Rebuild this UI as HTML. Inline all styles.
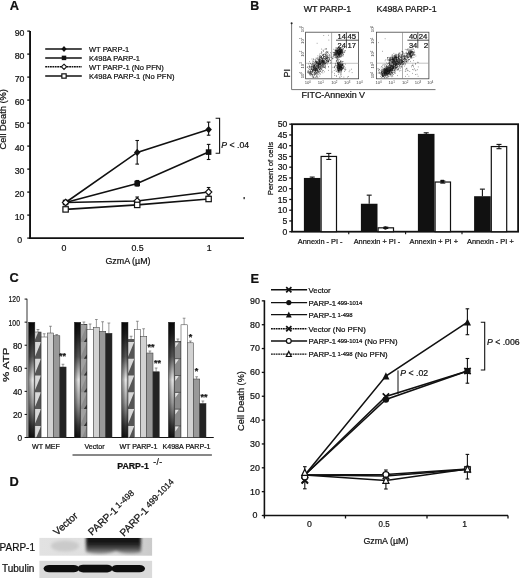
<!DOCTYPE html>
<html><head><meta charset="utf-8"><style>
html,body{margin:0;padding:0;background:#fff;}
svg{display:block;font-family:"Liberation Sans", sans-serif;filter:blur(0.3px);}
svg text{fill:#111;stroke:#111;stroke-width:0.22px;}
</style></head><body>
<svg width="520" height="578" viewBox="0 0 520 578">
<text x="9.7" y="10.1" font-size="12.8" font-weight="bold" >A</text>
<line x1="30.05" y1="31" x2="30.05" y2="239.0" stroke="#111" stroke-width="1.9" />
<line x1="29.15" y1="238.1" x2="244" y2="238.1" stroke="#111" stroke-width="1.9" />
<line x1="27.25" y1="238.1" x2="30.05" y2="238.1" stroke="#111" stroke-width="1.3" />
<text x="19.6" y="242.6" font-size="8.8" text-anchor="middle" >0</text>
<line x1="27.25" y1="215.1" x2="30.05" y2="215.1" stroke="#111" stroke-width="1.3" />
<text x="19.6" y="219.6" font-size="8.8" text-anchor="middle" >10</text>
<line x1="27.25" y1="192.1" x2="30.05" y2="192.1" stroke="#111" stroke-width="1.3" />
<text x="19.6" y="196.6" font-size="8.8" text-anchor="middle" >20</text>
<line x1="27.25" y1="169.1" x2="30.05" y2="169.1" stroke="#111" stroke-width="1.3" />
<text x="19.6" y="173.6" font-size="8.8" text-anchor="middle" >30</text>
<line x1="27.25" y1="146.1" x2="30.05" y2="146.1" stroke="#111" stroke-width="1.3" />
<text x="19.6" y="150.6" font-size="8.8" text-anchor="middle" >40</text>
<line x1="27.25" y1="123.1" x2="30.05" y2="123.1" stroke="#111" stroke-width="1.3" />
<text x="19.6" y="127.6" font-size="8.8" text-anchor="middle" >50</text>
<line x1="27.25" y1="100.1" x2="30.05" y2="100.1" stroke="#111" stroke-width="1.3" />
<text x="19.6" y="104.6" font-size="8.8" text-anchor="middle" >60</text>
<line x1="27.25" y1="77.1" x2="30.05" y2="77.1" stroke="#111" stroke-width="1.3" />
<text x="19.6" y="81.6" font-size="8.8" text-anchor="middle" >70</text>
<line x1="27.25" y1="54.1" x2="30.05" y2="54.1" stroke="#111" stroke-width="1.3" />
<text x="19.6" y="58.6" font-size="8.8" text-anchor="middle" >80</text>
<line x1="27.25" y1="31.1" x2="30.05" y2="31.1" stroke="#111" stroke-width="1.3" />
<text x="19.6" y="35.6" font-size="8.8" text-anchor="middle" >90</text>
<text x="0" y="0" font-size="9.3" text-anchor="middle" transform="translate(6.4,119.3) rotate(-90)">Cell Death (%)</text>
<text x="63.9" y="250.8" font-size="8.8" text-anchor="middle" >0</text>
<text x="137.6" y="250.8" font-size="8.8" text-anchor="middle" >0.5</text>
<text x="209.2" y="250.8" font-size="8.8" text-anchor="middle" >1</text>
<text x="128" y="264.2" font-size="8.9" text-anchor="middle" >GzmA (&#181;M)</text>
<line x1="137.2" y1="140.5" x2="137.2" y2="164.1" stroke="#111" stroke-width="1.1" />
<line x1="135.4" y1="140.5" x2="139.0" y2="140.5" stroke="#111" stroke-width="1.1" />
<line x1="135.4" y1="164.1" x2="139.0" y2="164.1" stroke="#111" stroke-width="1.1" />
<line x1="208.6" y1="122.1" x2="208.6" y2="135.2" stroke="#111" stroke-width="1.1" />
<line x1="206.8" y1="122.1" x2="210.4" y2="122.1" stroke="#111" stroke-width="1.1" />
<line x1="206.8" y1="135.2" x2="210.4" y2="135.2" stroke="#111" stroke-width="1.1" />
<line x1="208.6" y1="144.4" x2="208.6" y2="159.5" stroke="#111" stroke-width="1.1" />
<line x1="206.8" y1="144.4" x2="210.4" y2="144.4" stroke="#111" stroke-width="1.1" />
<line x1="206.8" y1="159.5" x2="210.4" y2="159.5" stroke="#111" stroke-width="1.1" />
<line x1="137.2" y1="180.5" x2="137.2" y2="186" stroke="#111" stroke-width="1.1" />
<line x1="135.4" y1="180.5" x2="139.0" y2="180.5" stroke="#111" stroke-width="1.1" />
<line x1="135.4" y1="186" x2="139.0" y2="186" stroke="#111" stroke-width="1.1" />
<line x1="208.6" y1="187.5" x2="208.6" y2="195" stroke="#111" stroke-width="1.1" />
<line x1="206.8" y1="187.5" x2="210.4" y2="187.5" stroke="#111" stroke-width="1.1" />
<line x1="206.8" y1="195" x2="210.4" y2="195" stroke="#111" stroke-width="1.1" />
<line x1="137.2" y1="197" x2="137.2" y2="203.5" stroke="#111" stroke-width="1.1" />
<line x1="135.4" y1="197" x2="139.0" y2="197" stroke="#111" stroke-width="1.1" />
<line x1="135.4" y1="203.5" x2="139.0" y2="203.5" stroke="#111" stroke-width="1.1" />
<polyline points="65.6,202.5 137.2,152.4 208.6,129.6" fill="none" stroke="#111" stroke-width="1.6"/>
<polyline points="65.6,202.5 137.2,183.5 208.6,152.1" fill="none" stroke="#111" stroke-width="1.6"/>
<polyline points="65.6,202.5 137.2,201 208.6,192" fill="none" stroke="#111" stroke-width="1.6"/>
<polyline points="65.6,209.4 137.2,204.9 208.6,199" fill="none" stroke="#111" stroke-width="1.6"/>
<path d="M65.6 198.80L68.85 202.5L65.6 206.20L62.35 202.5Z" fill="#111"/>
<path d="M137.2 148.70L140.45 152.4L137.2 156.10L133.95 152.4Z" fill="#111"/>
<path d="M208.6 125.90L211.85 129.6L208.6 133.30L205.35 129.6Z" fill="#111"/>
<rect x="62.80" y="199.70" width="5.60" height="5.60" fill="#111"/>
<rect x="134.40" y="180.70" width="5.60" height="5.60" fill="#111"/>
<rect x="205.80" y="149.30" width="5.60" height="5.60" fill="#111"/>
<path d="M65.6 199.25L68.85 202.5L65.6 205.75L62.35 202.5Z" fill="#fff" stroke="#111" stroke-width="1.1"/>
<path d="M137.2 197.75L140.45 201L137.2 204.25L133.95 201Z" fill="#fff" stroke="#111" stroke-width="1.1"/>
<path d="M208.6 188.75L211.85 192L208.6 195.25L205.35 192Z" fill="#fff" stroke="#111" stroke-width="1.1"/>
<rect x="62.91" y="206.71" width="5.38" height="5.38" fill="#fff" stroke="#111" stroke-width="1.2"/>
<rect x="134.51" y="202.21" width="5.38" height="5.38" fill="#fff" stroke="#111" stroke-width="1.2"/>
<rect x="205.91" y="196.31" width="5.38" height="5.38" fill="#fff" stroke="#111" stroke-width="1.2"/>
<line x1="45.2" y1="49" x2="81.8" y2="49" stroke="#111" stroke-width="1.45" />
<path d="M64 46.03L66.61 49L64 51.97L61.39 49Z" fill="#111"/>
<text x="89" y="51.9" font-size="8.1" textLength="40.2" lengthAdjust="spacingAndGlyphs" >WT PARP-1</text>
<line x1="45.2" y1="57.9" x2="81.8" y2="57.9" stroke="#111" stroke-width="1.45" />
<rect x="61.75" y="55.65" width="4.50" height="4.50" fill="#111"/>
<text x="89" y="60.8" font-size="8.1" textLength="50.9" lengthAdjust="spacingAndGlyphs" >K498A PARP-1</text>
<line x1="45.2" y1="66.8" x2="81.8" y2="66.8" stroke="#111" stroke-width="1.45" stroke-dasharray="1.8,0.6"/>
<path d="M64 64.19L66.61 66.8L64 69.41L61.39 66.8Z" fill="#fff" stroke="#111" stroke-width="1.1"/>
<text x="89" y="69.7" font-size="8.1" textLength="74.8" lengthAdjust="spacingAndGlyphs" >WT PARP-1 (No PFN)</text>
<line x1="45.2" y1="76" x2="81.8" y2="76" stroke="#111" stroke-width="1.45" />
<rect x="61.84" y="73.84" width="4.32" height="4.32" fill="#fff" stroke="#111" stroke-width="1.2"/>
<text x="89" y="78.9" font-size="8.1" textLength="85.5" lengthAdjust="spacingAndGlyphs" >K498A PARP-1 (No PFN)</text>
<path d="M215.6 118.3H219.6V153.3H215.6" fill="none" stroke="#111" stroke-width="1.1"/>
<text x="221.3" y="147.5" font-size="8.7"><tspan font-style="italic">P</tspan> &lt; .04</text>
<rect x="243.5" y="197" width="1.3" height="2.2" fill="#222"/>
<text x="250.3" y="9.7" font-size="12.4" font-weight="bold" >B</text>
<text x="327.5" y="12.1" font-size="8.9" text-anchor="middle" >WT PARP-1</text>
<text x="406.6" y="12.1" font-size="8.9" text-anchor="middle" >K498A PARP-1</text>
<line x1="291.6" y1="23" x2="291.6" y2="89.6" stroke="#666" stroke-width="0.9" />
<line x1="291.6" y1="89.6" x2="435.5" y2="89.6" stroke="#666" stroke-width="0.9" />
<circle cx="291.6" cy="23.3" r="1" fill="#222"/>
<text x="0" y="0" font-size="9" text-anchor="middle" transform="translate(290.4,73.3) rotate(-90)">PI</text>
<text x="333.3" y="98" font-size="8.95" text-anchor="middle" >FITC-Annexin V</text>
<rect x="305.6" y="32.2" width="53.0" height="46.6" fill="none" stroke="#444" stroke-width="0.8"/>
<line x1="331.6" y1="32.2" x2="331.6" y2="78.8" stroke="#777" stroke-width="0.6" />
<line x1="305.6" y1="63.3" x2="358.6" y2="63.3" stroke="#999" stroke-width="0.6" />
<path d="M317.7 61.7h.6M315.8 66.6h.6M312.5 66.7h.6M319.7 64.5h.6M321.6 63.0h.6M307.7 66.9h.6M325.4 57.5h.6M324.5 61.8h.6M313.5 71.7h.6M315.7 63.5h.6M329.1 59.7h.6M312.1 68.9h.6M309.3 69.4h.6M316.4 62.1h.6M317.5 66.2h.6M316.7 72.3h.6M328.8 59.5h.6M311.5 74.2h.6M319.9 57.5h.6M323.4 56.3h.6M320.8 57.9h.6M314.5 68.9h.6M313.3 61.9h.6M320.1 63.9h.6M313.9 73.7h.6M327.0 54.8h.6M322.8 62.7h.6M318.8 60.0h.6M313.6 63.3h.6M320.4 59.8h.6M313.4 76.9h.6M322.0 66.5h.6M326.3 54.0h.6M327.9 60.8h.6M315.6 66.9h.6M324.7 66.0h.6M319.3 66.7h.6M316.2 65.5h.6M322.9 64.3h.6M312.9 67.6h.6M311.9 67.9h.6M317.7 58.6h.6M321.9 62.7h.6M314.9 69.0h.6M320.5 62.5h.6M316.4 65.5h.6M327.3 62.6h.6M321.8 59.2h.6M316.8 63.4h.6M324.4 64.9h.6M321.0 69.7h.6M315.2 70.6h.6M324.7 49.2h.6M317.3 63.4h.6M316.8 70.3h.6M319.4 64.3h.6M323.5 67.5h.6M310.9 66.8h.6M314.8 72.9h.6M309.8 71.9h.6M318.9 71.6h.6M315.1 68.6h.6M315.3 74.1h.6M310.0 71.6h.6M315.3 61.6h.6M322.3 55.2h.6M319.8 60.6h.6M311.4 68.0h.6M318.7 71.2h.6M323.0 67.0h.6M314.9 70.7h.6M318.4 60.0h.6M319.8 63.1h.6M318.8 61.4h.6M328.0 61.9h.6M315.4 70.4h.6M318.8 67.4h.6M316.9 64.9h.6M309.2 65.4h.6M314.6 65.7h.6M320.9 56.7h.6M326.8 57.7h.6M324.9 58.4h.6M309.8 71.0h.6M320.8 60.6h.6M314.8 77.4h.6M314.0 65.4h.6M314.6 65.0h.6M318.4 64.2h.6M323.0 56.5h.6M325.0 55.6h.6M329.2 55.7h.6M315.9 77.1h.6M311.0 64.5h.6M318.1 65.6h.6M324.6 58.5h.6M319.4 63.8h.6M312.6 70.9h.6M324.5 56.6h.6M319.5 69.2h.6M310.8 71.6h.6M310.2 74.0h.6M322.1 61.2h.6M321.0 62.9h.6M310.2 73.8h.6M329.0 58.4h.6M318.9 64.7h.6M323.7 60.2h.6M322.0 60.9h.6M313.7 65.5h.6M314.0 66.0h.6M316.3 62.3h.6M314.4 70.8h.6M320.9 58.8h.6M311.6 67.6h.6M314.9 70.5h.6M324.6 61.0h.6M315.0 60.2h.6M316.1 76.6h.6M318.6 65.3h.6M317.8 65.4h.6M328.1 59.8h.6M322.1 61.4h.6M319.0 61.5h.6M330.7 62.7h.6M308.4 71.1h.6M318.4 64.8h.6M326.1 61.0h.6M318.9 59.2h.6M314.3 69.4h.6M323.1 62.0h.6M322.6 72.9h.6M319.4 59.6h.6M310.4 74.2h.6M322.8 63.7h.6M321.9 61.8h.6M318.1 59.5h.6M312.5 74.1h.6M321.7 62.2h.6M327.8 57.0h.6M325.2 63.5h.6M330.2 57.1h.6M318.4 67.4h.6M325.8 58.5h.6M309.7 69.6h.6M322.1 60.4h.6M318.6 66.2h.6M320.8 60.6h.6M320.2 63.7h.6M318.8 60.7h.6M320.0 71.4h.6M335.3 57.2h.6M314.7 67.5h.6M318.4 67.4h.6M312.9 70.4h.6M317.9 72.4h.6M325.7 59.3h.6M327.6 55.3h.6M325.9 55.7h.6M323.0 60.7h.6M319.1 59.4h.6M319.0 68.1h.6M314.1 66.5h.6M323.7 62.1h.6M317.4 67.1h.6M323.0 65.7h.6M322.7 60.3h.6M317.4 71.7h.6M318.7 60.3h.6M320.5 66.0h.6M319.5 62.9h.6M326.0 57.6h.6M326.7 56.2h.6M328.8 58.3h.6M317.6 55.8h.6M323.2 61.5h.6M312.5 64.3h.6M330.9 57.4h.6M312.8 61.5h.6M307.4 72.7h.6M325.3 48.9h.6M317.6 74.7h.6M315.8 61.6h.6M319.9 64.2h.6M308.7 73.6h.6M321.2 52.8h.6M318.9 63.0h.6M323.3 63.2h.6M326.0 55.8h.6M324.8 62.9h.6M314.3 68.1h.6M314.8 69.5h.6M313.1 69.4h.6M322.1 62.9h.6M322.1 70.9h.6M316.0 70.0h.6M321.6 62.7h.6M314.0 67.2h.6M314.3 66.0h.6M321.8 69.0h.6M319.1 58.8h.6M310.9 69.2h.6M312.5 71.5h.6M310.8 71.8h.6M322.3 71.0h.6M315.4 70.6h.6M322.7 64.1h.6M320.4 57.2h.6M325.3 54.2h.6M323.3 62.0h.6M330.0 60.5h.6M317.8 61.3h.6M318.9 56.6h.6M324.6 63.3h.6M332.6 57.0h.6M314.1 68.5h.6M313.3 59.7h.6M324.9 65.4h.6M313.1 70.4h.6M320.8 68.3h.6M318.2 65.3h.6M312.0 70.6h.6M314.8 67.1h.6M326.8 63.3h.6M328.6 61.2h.6M312.5 61.0h.6M317.4 61.6h.6M318.6 74.3h.6M315.1 67.1h.6M311.3 66.3h.6M319.2 64.4h.6M314.0 69.7h.6M313.7 70.2h.6M321.8 59.0h.6M319.9 62.0h.6M319.5 61.7h.6M316.7 69.0h.6M321.4 57.7h.6M322.1 59.6h.6M319.7 63.1h.6M331.6 57.0h.6M315.9 70.0h.6M323.8 58.6h.6M320.7 65.5h.6M319.2 66.5h.6M325.2 63.2h.6M323.3 62.4h.6M325.1 66.9h.6M318.0 72.7h.6M326.6 55.8h.6M319.3 62.1h.6M322.6 65.1h.6M317.7 68.8h.6M315.8 67.8h.6M315.0 61.6h.6M309.1 66.5h.6M321.2 63.9h.6M317.3 70.5h.6M329.3 57.0h.6M321.8 54.8h.6M312.8 77.0h.6M313.9 67.7h.6M314.0 72.3h.6M325.3 59.6h.6M308.9 71.9h.6M326.6 52.9h.6M321.1 51.6h.6M314.7 64.8h.6M322.9 50.9h.6M316.1 70.1h.6M315.1 69.4h.6M312.4 76.9h.6M315.1 70.9h.6M313.9 67.2h.6M318.0 67.6h.6M315.8 66.3h.6M322.3 64.0h.6M318.2 67.2h.6M315.6 63.4h.6M318.7 64.9h.6M315.9 68.5h.6M323.5 57.9h.6M324.5 63.0h.6M330.1 60.8h.6M324.5 56.5h.6M313.5 69.1h.6M309.9 63.4h.6M325.3 56.8h.6M313.5 68.6h.6M310.1 63.7h.6M323.5 61.0h.6M311.7 76.0h.6M313.4 67.2h.6M311.9 70.8h.6M314.3 65.0h.6M320.4 66.9h.6M311.7 65.1h.6M320.4 61.5h.6M324.9 67.9h.6M322.6 60.8h.6M317.2 69.1h.6M328.4 53.2h.6M307.8 71.3h.6M310.6 74.0h.6M316.0 70.1h.6M316.6 62.1h.6M322.8 62.1h.6M321.7 67.9h.6M325.9 62.3h.6M326.0 48.6h.6M313.7 65.7h.6M308.1 68.7h.6M315.3 74.4h.6M326.9 58.8h.6M322.4 64.4h.6M320.9 57.9h.6M312.5 66.1h.6M322.5 61.0h.6M319.9 64.2h.6M326.3 51.9h.6M315.5 69.4h.6M319.4 67.5h.6M317.9 67.0h.6M323.5 54.2h.6M307.5 66.9h.6M317.4 65.1h.6M330.4 52.6h.6M318.0 64.4h.6M309.4 73.4h.6M313.4 67.5h.6M321.5 65.5h.6M324.2 58.5h.6M321.1 62.9h.6M312.9 66.5h.6M318.6 61.9h.6M326.9 56.5h.6M320.9 57.3h.6M320.0 57.0h.6M323.3 58.1h.6M322.0 67.5h.6M311.4 74.2h.6M311.8 72.2h.6M322.0 59.7h.6M326.3 49.2h.6M323.6 56.4h.6M328.0 61.8h.6M326.5 57.7h.6M316.7 71.0h.6M321.3 65.6h.6M322.8 60.2h.6M310.3 73.5h.6M324.9 58.6h.6M324.0 62.4h.6M319.9 65.9h.6M323.6 62.0h.6M316.3 68.5h.6M311.5 69.2h.6M312.7 70.5h.6M314.9 64.4h.6M321.6 66.8h.6M313.8 59.8h.6M314.6 68.5h.6M328.2 66.5h.6M309.1 74.1h.6M322.2 55.2h.6M314.3 69.8h.6M318.7 71.6h.6M319.3 63.4h.6M323.5 62.7h.6M315.1 69.6h.6M312.6 70.0h.6M328.2 70.4h.6M326.5 56.5h.6M320.7 59.9h.6M318.2 63.0h.6M316.6 69.4h.6M312.0 74.7h.6M317.4 70.4h.6M310.0 75.6h.6M319.4 56.8h.6M312.5 74.8h.6M317.9 64.2h.6M319.4 62.7h.6M314.6 62.0h.6M320.4 60.1h.6M317.1 63.0h.6M312.1 72.3h.6M315.6 61.1h.6M319.8 64.0h.6M315.0 69.8h.6M321.0 56.6h.6M319.0 61.4h.6M312.9 67.2h.6M318.2 70.2h.6M321.3 49.1h.6M324.4 56.7h.6M319.5 55.6h.6M310.1 72.5h.6M320.2 67.7h.6M327.2 52.1h.6M317.8 66.7h.6M317.5 62.0h.6M317.0 76.9h.6M322.0 65.9h.6M326.3 62.2h.6M318.9 57.9h.6M308.4 71.0h.6M319.9 69.2h.6M318.3 64.4h.6M325.3 56.1h.6M328.7 55.3h.6M314.9 62.8h.6M326.2 60.4h.6M321.8 61.5h.6M324.3 61.0h.6M317.6 62.8h.6M313.7 73.3h.6M324.9 54.3h.6M316.2 72.7h.6M315.8 74.0h.6M326.5 60.8h.6M317.9 68.5h.6M314.5 73.0h.6M311.7 59.0h.6M319.9 67.9h.6M312.2 70.9h.6M320.6 63.3h.6M320.8 61.1h.6M307.0 71.1h.6M310.3 71.8h.6M312.7 75.2h.6M323.6 66.7h.6M327.6 51.6h.6M316.7 62.5h.6M328.1 61.8h.6M313.4 66.5h.6M325.4 68.0h.6M322.4 61.0h.6M324.3 54.1h.6M317.7 71.2h.6M324.4 67.2h.6M319.2 57.1h.6M333.3 56.4h.6M321.1 60.8h.6M316.7 74.9h.6M324.8 56.1h.6M309.5 67.3h.6M316.7 69.8h.6M321.2 66.9h.6M321.5 72.5h.6M332.2 58.5h.6M327.2 58.9h.6M316.3 66.5h.6M316.6 64.6h.6M313.2 69.7h.6M310.1 70.5h.6M315.1 67.7h.6M308.0 64.0h.6M319.4 65.1h.6M320.1 63.3h.6M328.4 67.2h.6M320.6 66.7h.6M327.4 52.6h.6M318.2 68.5h.6M309.7 68.9h.6M313.3 68.0h.6M312.1 62.9h.6M316.2 75.3h.6M322.6 63.6h.6M315.6 62.5h.6M320.3 62.9h.6M317.5 71.2h.6M314.4 72.4h.6M315.4 70.7h.6M315.2 64.6h.6M320.8 59.3h.6M315.7 68.9h.6M328.7 58.3h.6M311.0 69.5h.6M315.9 62.4h.6M327.4 61.0h.6M319.0 59.9h.6M324.9 63.5h.6M316.4 68.8h.6M316.8 71.7h.6M316.7 76.2h.6M316.9 70.5h.6M326.1 60.5h.6M311.7 68.2h.6M319.0 61.0h.6M323.0 63.4h.6M320.2 71.1h.6M321.1 69.4h.6M336.2 57.0h.6M323.7 60.9h.6M324.4 59.6h.6M325.2 62.7h.6M321.7 61.7h.6M321.9 61.0h.6M325.9 51.4h.6M324.0 64.1h.6M313.4 65.5h.6M311.9 75.3h.6M311.2 66.2h.6M326.5 61.7h.6M316.4 62.3h.6M319.7 68.2h.6M317.8 57.8h.6M319.7 61.6h.6M323.5 65.6h.6M321.5 57.7h.6M322.7 60.8h.6M310.4 72.0h.6M326.1 58.1h.6M327.1 57.6h.6M313.8 64.9h.6M316.3 70.6h.6M308.4 72.6h.6M312.9 66.4h.6M316.8 67.2h.6M321.3 58.6h.6M310.2 66.7h.6M324.1 62.6h.6M314.4 74.9h.6M322.8 50.1h.6M321.6 52.8h.6M317.5 69.2h.6M322.1 58.7h.6M325.3 59.5h.6M327.1 61.2h.6M318.6 63.2h.6M316.0 62.5h.6M316.3 68.7h.6M313.9 65.7h.6M321.8 63.0h.6M317.7 67.3h.6M313.6 63.7h.6M331.9 58.9h.6M316.3 73.3h.6M314.9 73.7h.6M311.7 66.8h.6M318.6 63.0h.6M322.4 58.0h.6M313.6 68.6h.6M321.0 56.5h.6M315.0 71.4h.6M329.0 54.5h.6M323.8 61.0h.6M319.4 61.5h.6M327.7 61.4h.6M322.7 61.4h.6M309.2 61.6h.6M325.8 53.7h.6M317.9 65.6h.6M319.0 69.5h.6M314.6 68.1h.6M322.8 59.0h.6M309.5 72.0h.6M325.1 61.1h.6M312.7 69.5h.6M313.4 67.9h.6M316.4 63.7h.6M315.3 71.7h.6M323.4 56.9h.6M317.3 57.9h.6M317.0 70.1h.6M317.5 62.8h.6M320.3 65.0h.6M320.4 64.9h.6M313.2 77.4h.6M320.3 68.5h.6M311.8 69.9h.6M321.7 60.7h.6M316.5 60.8h.6M320.6 71.4h.6M323.3 62.0h.6M328.0 61.6h.6M311.2 71.9h.6M319.0 54.1h.6M314.8 77.2h.6M325.6 57.6h.6M318.2 66.3h.6M320.6 63.1h.6M327.0 58.8h.6M323.3 62.5h.6M315.2 60.8h.6M320.7 68.3h.6M317.9 63.1h.6M318.0 63.4h.6M324.3 67.5h.6M315.3 73.5h.6M313.5 69.2h.6M315.3 59.3h.6M323.3 60.6h.6M321.9 64.1h.6M319.0 64.2h.6M313.1 65.0h.6M313.1 67.3h.6M311.7 66.5h.6M320.0 64.6h.6M326.4 60.4h.6M321.6 67.0h.6M316.9 63.3h.6M318.5 66.4h.6M327.7 57.5h.6M315.5 65.9h.6M312.2 71.6h.6M330.0 63.1h.6M322.5 61.7h.6M323.6 63.9h.6M322.4 58.5h.6M316.0 68.2h.6M312.1 63.6h.6M322.3 60.7h.6M320.7 68.8h.6M323.4 70.5h.6M323.1 66.1h.6M326.8 59.3h.6M315.4 69.0h.6M309.0 72.9h.6M309.3 74.8h.6M328.0 57.6h.6M316.4 63.5h.6M314.4 74.6h.6M323.3 54.7h.6M309.0 66.8h.6M322.6 55.4h.6M309.3 67.1h.6M311.9 65.7h.6M318.3 71.3h.6M316.8 66.1h.6M321.7 62.7h.6M316.6 73.3h.6M326.3 62.8h.6M317.8 63.4h.6M327.9 61.3h.6M320.8 64.6h.6M321.5 61.8h.6M317.1 69.0h.6M320.0 56.2h.6M319.9 59.6h.6M311.1 73.0h.6M314.7 72.6h.6M312.4 70.2h.6M318.5 64.5h.6M324.1 63.9h.6M317.5 73.6h.6M322.6 64.5h.6M328.2 60.7h.6M312.9 69.5h.6M317.4 64.8h.6M325.3 59.1h.6M320.3 61.6h.6M309.5 72.8h.6M326.8 64.3h.6M319.5 63.0h.6M323.0 55.1h.6M327.2 57.8h.6M332.7 58.5h.6M312.7 72.2h.6M327.5 61.3h.6M323.0 57.9h.6M317.9 63.4h.6M318.4 61.8h.6M315.4 68.0h.6M319.6 73.5h.6M313.6 64.8h.6M319.4 72.7h.6M318.8 59.7h.6M318.5 64.0h.6M323.1 64.3h.6M314.8 72.6h.6M316.5 68.9h.6M323.3 51.2h.6M326.0 58.5h.6M311.2 68.2h.6M324.3 71.8h.6M322.9 59.1h.6M316.1 68.9h.6M321.0 56.4h.6M317.9 63.4h.6M310.4 67.8h.6M319.2 69.4h.6M321.1 60.9h.6M324.7 61.0h.6M315.9 64.6h.6M325.6 54.5h.6M329.0 59.9h.6M323.3 54.8h.6M316.0 58.8h.6M315.3 70.9h.6M319.8 57.8h.6M312.6 69.7h.6M322.1 65.8h.6M316.7 63.0h.6M321.9 65.9h.6M326.7 52.4h.6M323.7 67.0h.6M328.5 60.7h.6M313.1 68.9h.6M314.7 68.4h.6M308.0 72.8h.6M321.8 62.5h.6M317.8 71.9h.6M312.6 64.4h.6M326.9 60.4h.6M317.4 59.7h.6M310.8 69.5h.6M320.7 53.5h.6M320.1 74.2h.6M319.8 64.0h.6M317.7 67.4h.6M321.7 58.1h.6M312.9 77.1h.6M306.9 67.5h.6M321.7 61.7h.6M317.6 77.6h.6M322.3 59.0h.6M320.4 63.1h.6M320.4 66.5h.6M313.8 66.4h.6M321.5 61.9h.6M320.5 67.8h.6M318.5 66.2h.6M325.9 58.8h.6M315.3 67.0h.6M327.4 56.7h.6M316.1 68.2h.6M329.7 60.0h.6M313.7 74.4h.6M321.3 60.8h.6M313.1 58.8h.6M328.7 57.3h.6M330.6 55.3h.6M325.4 52.6h.6M315.8 58.0h.6M319.4 58.3h.6M316.2 72.6h.6M307.6 72.1h.6M309.8 72.7h.6M317.2 67.8h.6M317.3 72.9h.6M318.4 65.3h.6M311.2 73.0h.6M318.1 62.9h.6M325.0 66.2h.6M319.2 69.9h.6M313.9 69.9h.6M317.6 59.0h.6M314.4 65.8h.6M315.6 71.5h.6M319.3 60.6h.6M324.5 63.0h.6M326.0 58.5h.6M311.6 74.5h.6M326.8 59.1h.6M321.0 64.9h.6M314.6 65.2h.6M317.6 64.5h.6M319.5 76.1h.6M316.1 61.7h.6M323.2 57.5h.6M319.2 69.8h.6M319.0 63.8h.6M319.0 60.4h.6M315.7 61.6h.6M324.0 61.7h.6M314.2 75.3h.6M320.4 70.2h.6M315.2 69.2h.6M316.6 72.8h.6M319.8 58.4h.6M314.3 70.8h.6M324.8 54.6h.6M322.3 61.8h.6M318.8 68.8h.6M324.5 63.9h.6M318.3 60.4h.6M325.0 64.4h.6M319.2 62.0h.6M323.0 54.8h.6M317.2 65.8h.6M314.1 62.7h.6M316.4 67.6h.6M323.5 61.1h.6M314.8 68.4h.6M317.6 69.0h.6M316.7 65.6h.6M311.1 73.6h.6M320.5 55.5h.6M314.1 70.5h.6M311.2 69.2h.6M314.6 67.3h.6M316.9 66.5h.6M318.8 65.8h.6M334.5 53.6h.6M334.7 54.6h.6M337.8 53.1h.6M339.8 48.0h.6M339.5 51.4h.6M340.8 52.9h.6M341.9 52.2h.6M339.8 54.5h.6M338.6 49.7h.6M336.0 54.2h.6M336.2 51.6h.6M337.4 53.1h.6M339.3 53.1h.6M339.2 53.7h.6M338.6 51.2h.6M338.2 52.9h.6M340.2 49.5h.6M339.1 49.3h.6M339.3 53.3h.6M339.4 52.1h.6M337.2 49.3h.6M336.0 51.3h.6M339.8 52.1h.6M339.6 55.4h.6M338.0 54.7h.6M337.6 54.3h.6M344.3 47.1h.6M336.7 52.7h.6M338.1 53.5h.6M339.3 53.0h.6M335.7 54.0h.6M338.9 51.8h.6M343.1 54.9h.6M340.9 54.9h.6M340.2 51.8h.6M340.1 49.9h.6M338.9 56.6h.6M341.0 50.6h.6M338.2 55.0h.6M337.5 56.7h.6M338.9 50.3h.6M340.9 52.4h.6M339.4 51.4h.6M340.3 53.0h.6M333.5 54.4h.6M341.6 55.7h.6M344.5 52.1h.6M341.9 51.5h.6M337.8 54.9h.6M336.5 52.4h.6M339.3 51.4h.6M336.1 57.7h.6M340.4 50.2h.6M337.3 51.7h.6M341.0 51.8h.6M342.0 49.3h.6M333.5 49.3h.6M339.3 54.4h.6M336.9 51.2h.6M335.1 52.2h.6M337.1 52.0h.6M338.1 50.5h.6M341.2 49.4h.6M334.8 53.7h.6M341.2 56.7h.6M343.6 52.6h.6M340.1 53.5h.6M340.0 48.9h.6M338.6 52.3h.6M335.7 50.7h.6M339.9 53.6h.6M339.6 51.6h.6M340.4 52.0h.6M345.0 50.5h.6M340.4 50.7h.6M339.7 48.9h.6M342.5 52.6h.6M335.2 50.4h.6M335.7 50.7h.6M337.7 52.0h.6M337.0 51.3h.6M340.3 52.5h.6M337.8 54.7h.6M342.9 51.8h.6M342.4 51.8h.6M340.5 51.9h.6M337.6 54.4h.6M340.1 48.1h.6M340.6 52.6h.6M335.9 51.1h.6M339.5 49.6h.6M340.4 51.9h.6M339.1 51.4h.6M342.5 52.6h.6M341.6 53.9h.6M336.5 48.0h.6M338.9 52.1h.6M336.5 57.0h.6M340.0 53.8h.6M336.4 56.0h.6M340.9 52.0h.6M339.6 49.1h.6M341.0 49.4h.6M338.2 54.0h.6M335.0 55.3h.6M343.0 49.7h.6M338.2 51.9h.6M342.0 52.0h.6M339.7 48.4h.6M340.3 51.2h.6M343.2 54.6h.6M339.5 56.7h.6M342.1 51.2h.6M334.9 57.2h.6M340.8 50.7h.6M338.0 50.8h.6M338.3 47.8h.6M338.6 54.4h.6M339.5 51.4h.6M342.7 56.2h.6M334.0 54.3h.6M338.7 52.7h.6M336.8 49.1h.6M341.5 54.8h.6M337.5 51.9h.6M339.7 51.7h.6M337.6 48.0h.6M340.3 53.9h.6M341.1 53.8h.6M337.6 51.4h.6M338.7 52.5h.6M335.0 54.1h.6M339.4 54.2h.6M340.7 52.0h.6M337.2 56.4h.6M341.4 51.1h.6M333.4 52.5h.6M334.0 52.6h.6M335.1 48.0h.6M337.4 51.0h.6M338.6 54.5h.6M338.4 53.0h.6M338.4 50.7h.6M340.4 52.6h.6M337.4 48.5h.6M335.4 52.6h.6M335.5 54.3h.6M343.9 52.5h.6M332.7 52.3h.6M338.2 54.4h.6M342.2 55.3h.6M339.8 51.2h.6M336.5 54.5h.6M338.6 49.1h.6M340.8 47.7h.6M341.6 52.9h.6M336.4 53.1h.6M340.5 52.3h.6M339.2 51.0h.6M341.4 51.0h.6M342.1 53.2h.6M337.7 56.2h.6M335.0 52.9h.6M339.6 48.7h.6M343.0 53.9h.6M340.3 53.2h.6M339.2 53.7h.6M344.6 51.2h.6M336.0 58.0h.6M340.9 52.0h.6M337.2 53.8h.6M338.7 48.5h.6M338.8 51.1h.6M342.4 50.0h.6M336.3 52.9h.6M337.3 53.5h.6M334.6 51.9h.6M339.8 55.7h.6M337.5 50.5h.6M339.7 51.2h.6M335.9 53.6h.6M337.7 50.0h.6M341.2 52.9h.6M338.2 53.8h.6M340.2 51.4h.6M339.9 56.1h.6M337.7 52.8h.6M334.7 54.0h.6M341.1 49.7h.6M339.0 48.8h.6M341.1 50.4h.6M333.6 53.0h.6M334.5 52.5h.6M333.2 55.4h.6M336.4 48.0h.6M341.2 49.3h.6M340.0 48.2h.6M338.5 55.2h.6M338.9 51.1h.6M340.5 50.8h.6M337.8 50.3h.6M339.6 54.0h.6M338.9 51.4h.6M333.1 54.3h.6M337.6 48.4h.6M342.0 54.0h.6M337.6 53.5h.6M338.2 53.6h.6M337.1 55.4h.6M337.4 52.3h.6M341.4 51.3h.6M337.9 54.1h.6M336.0 54.0h.6M330.8 53.9h.6M337.2 52.9h.6M333.7 52.6h.6M334.0 55.1h.6M340.6 53.8h.6M340.4 51.9h.6M333.8 57.6h.6M340.7 48.6h.6M339.7 51.6h.6M336.6 56.5h.6M340.4 51.0h.6M334.5 50.1h.6M335.6 56.1h.6M335.0 54.5h.6M335.8 50.6h.6M340.8 53.4h.6M335.3 51.1h.6M335.7 50.3h.6M336.2 52.7h.6M339.1 51.3h.6M337.8 50.3h.6M340.8 51.1h.6M336.8 50.8h.6M335.4 53.4h.6M337.3 52.7h.6M338.7 53.9h.6M336.3 52.1h.6M339.3 49.4h.6M343.1 48.4h.6M337.1 52.3h.6M338.7 55.6h.6M342.0 53.3h.6M337.0 51.5h.6M336.5 54.9h.6M335.8 50.7h.6M339.6 54.3h.6M339.9 51.3h.6M338.2 54.1h.6M338.7 53.7h.6M341.7 51.0h.6M340.7 52.5h.6M335.0 51.1h.6M338.5 52.3h.6M338.8 54.6h.6M340.3 60.6h.6M338.0 54.0h.6M336.9 53.0h.6M337.4 50.6h.6M334.1 55.8h.6M338.5 49.0h.6M337.0 51.1h.6M339.7 52.9h.6M336.0 50.6h.6M337.4 56.0h.6M336.1 55.4h.6M335.9 51.9h.6M340.3 50.8h.6M337.4 50.0h.6M339.6 49.2h.6M335.7 54.1h.6M338.8 53.7h.6M334.3 54.3h.6M337.3 53.3h.6M337.2 51.6h.6M340.0 52.8h.6M339.0 49.2h.6M338.1 52.6h.6M340.6 55.0h.6M339.0 55.1h.6M339.8 51.1h.6M340.4 51.2h.6M338.3 55.4h.6M337.8 56.4h.6M339.3 49.1h.6M337.4 51.8h.6M339.5 52.7h.6M341.3 54.3h.6M340.6 50.1h.6M337.5 54.0h.6M335.3 52.6h.6M338.3 57.5h.6M338.2 53.4h.6M341.2 51.4h.6M337.5 52.0h.6M338.0 54.8h.6M340.3 53.4h.6M337.3 50.5h.6M338.1 53.0h.6M342.8 48.5h.6M342.2 49.9h.6M340.1 49.3h.6M339.2 49.5h.6M336.1 51.6h.6M339.9 50.0h.6M338.6 53.5h.6M339.0 54.0h.6M337.2 52.3h.6M338.5 50.1h.6M338.0 54.3h.6M339.3 48.0h.6M342.0 47.4h.6M339.4 53.7h.6M334.3 54.9h.6M336.1 55.1h.6M334.5 53.0h.6M336.5 50.3h.6M339.9 51.0h.6M339.5 53.4h.6M337.0 51.2h.6M339.1 50.8h.6M336.6 50.0h.6M334.9 50.9h.6M335.0 55.1h.6M336.3 54.0h.6M342.0 49.1h.6M335.1 51.0h.6M341.6 50.4h.6M341.8 52.7h.6M338.0 50.1h.6M338.4 52.1h.6M336.9 48.3h.6M338.4 49.8h.6M340.1 52.9h.6M338.5 54.3h.6M341.0 49.3h.6M341.4 50.0h.6M339.3 53.9h.6M339.3 51.4h.6M338.3 51.3h.6M339.3 53.3h.6M335.7 53.6h.6M339.5 54.5h.6M339.0 54.0h.6M336.3 51.8h.6M343.8 50.8h.6M336.0 53.0h.6M336.3 50.2h.6M339.2 50.2h.6M333.6 55.8h.6M336.5 49.6h.6M334.7 55.5h.6M336.1 53.7h.6M338.1 52.2h.6M339.3 53.4h.6M341.2 52.7h.6M340.5 54.5h.6M341.4 50.8h.6M339.9 51.6h.6M337.3 52.2h.6M341.2 55.7h.6M337.2 54.8h.6M336.9 50.9h.6M342.3 50.7h.6M340.4 50.4h.6M339.0 52.3h.6M340.3 52.4h.6M340.7 56.7h.6M335.1 49.5h.6M338.2 54.7h.6M335.5 54.1h.6M338.8 50.9h.6M336.8 52.6h.6M341.9 50.5h.6M339.8 52.2h.6M336.4 55.1h.6M338.4 49.3h.6M335.4 56.0h.6M338.3 71.0h.6M342.3 65.7h.6M340.0 66.4h.6M341.7 67.3h.6M340.3 64.9h.6M341.4 64.6h.6M339.2 66.0h.6M337.4 69.2h.6M340.5 65.9h.6M340.6 66.5h.6M343.5 65.9h.6M334.9 63.6h.6M338.7 70.8h.6M341.4 61.2h.6M336.5 65.4h.6M338.6 68.4h.6M343.6 63.6h.6M342.1 68.6h.6M337.3 70.2h.6M342.1 64.9h.6M341.6 67.6h.6M340.8 64.3h.6M339.9 68.3h.6M339.6 67.3h.6M337.3 67.6h.6M338.0 70.5h.6M340.7 68.2h.6M339.4 70.4h.6M343.0 68.6h.6M338.4 64.0h.6M334.1 67.7h.6M338.4 68.3h.6M339.7 63.4h.6M339.9 70.4h.6M339.3 67.2h.6M337.4 68.0h.6M342.3 64.8h.6M337.7 67.2h.6M340.6 67.8h.6M338.5 66.2h.6M336.6 67.2h.6M342.1 61.7h.6M333.9 70.5h.6M337.4 64.3h.6M340.1 61.6h.6M338.4 64.6h.6M340.7 65.0h.6M338.9 68.4h.6M338.2 64.8h.6M343.7 67.8h.6M338.7 64.6h.6M338.8 72.6h.6M336.9 68.4h.6M337.6 71.9h.6M340.5 64.5h.6M340.3 68.7h.6M339.2 64.7h.6M337.7 68.5h.6M340.6 68.7h.6M335.6 63.1h.6M338.4 64.2h.6M338.6 64.1h.6M337.4 63.3h.6M339.5 65.2h.6M337.8 64.6h.6M337.5 63.4h.6M342.9 67.3h.6M340.7 68.4h.6M341.7 63.8h.6M339.3 65.6h.6M341.2 67.1h.6M340.8 66.5h.6M341.7 65.3h.6M344.1 69.1h.6M338.7 69.2h.6M339.7 68.7h.6M339.1 66.5h.6M331.8 72.0h.6M336.2 71.4h.6M339.2 66.0h.6M340.5 66.7h.6M338.0 70.0h.6M341.6 65.0h.6M341.9 68.0h.6M338.3 67.1h.6M342.2 65.3h.6M342.9 66.4h.6M340.2 63.1h.6M337.1 65.7h.6M342.3 62.0h.6M338.8 72.7h.6M338.4 70.8h.6M339.4 70.1h.6M338.1 67.8h.6M341.4 69.5h.6M340.8 70.2h.6M341.8 69.6h.6M340.4 69.3h.6M337.5 64.7h.6M338.9 68.1h.6M341.0 65.7h.6M338.3 64.1h.6M345.3 64.2h.6M338.7 68.1h.6M338.0 69.6h.6M341.6 63.6h.6M340.8 71.4h.6M339.1 70.7h.6M338.7 66.1h.6M340.1 65.9h.6M341.0 66.8h.6M340.8 69.5h.6M338.6 66.1h.6M340.1 64.2h.6M341.0 67.9h.6M340.8 61.8h.6M332.7 67.4h.6M337.3 69.9h.6M337.6 67.8h.6M338.7 69.0h.6M339.6 68.2h.6M341.1 68.8h.6M340.5 67.4h.6M338.9 64.9h.6M339.2 66.4h.6M342.9 66.8h.6M337.9 70.1h.6M339.8 71.1h.6M342.5 68.1h.6M339.9 65.1h.6M334.9 65.2h.6M340.0 66.5h.6M338.4 70.5h.6M339.0 67.8h.6M341.4 66.9h.6M340.2 65.1h.6M338.6 69.2h.6M341.1 67.7h.6M340.1 66.9h.6M339.4 67.3h.6M339.8 71.2h.6M339.7 66.6h.6M338.5 71.2h.6M338.2 70.1h.6M339.3 67.1h.6M337.2 69.2h.6M336.6 66.7h.6M341.9 64.9h.6M338.7 66.3h.6M339.1 64.7h.6M338.9 68.3h.6M339.2 67.0h.6M339.2 68.4h.6M339.3 69.1h.6M337.5 59.2h.6M341.2 67.8h.6M337.7 62.5h.6M341.4 67.4h.6M335.2 64.8h.6M337.0 67.3h.6M341.3 70.4h.6M338.9 62.7h.6M337.8 67.5h.6M340.0 66.8h.6M337.0 62.3h.6M339.4 68.6h.6M334.5 67.1h.6M338.3 65.7h.6M337.8 65.2h.6M340.3 75.0h.6M341.0 66.0h.6M337.4 62.5h.6M342.6 64.7h.6M338.0 66.1h.6M334.9 66.0h.6M334.2 66.8h.6M342.4 64.4h.6M339.0 68.4h.6M337.8 65.8h.6M337.6 63.6h.6M336.9 65.0h.6M342.0 66.0h.6M339.0 69.1h.6M343.0 68.2h.6M338.8 66.2h.6M334.3 67.0h.6M341.0 67.5h.6M338.4 72.1h.6M338.7 65.5h.6M342.5 68.2h.6M338.6 68.8h.6M341.6 64.6h.6M339.2 67.5h.6M337.6 67.4h.6M340.3 65.8h.6M337.9 68.4h.6M341.8 69.6h.6M341.2 69.8h.6M339.3 66.5h.6M340.5 67.5h.6M340.4 72.9h.6M338.6 64.2h.6M341.1 67.6h.6M338.7 69.2h.6M340.5 67.4h.6M337.2 68.6h.6M339.4 67.4h.6M340.1 68.9h.6M337.5 70.2h.6M338.3 66.4h.6M338.1 67.5h.6M340.7 66.9h.6M337.7 66.0h.6M340.1 67.0h.6M342.4 64.2h.6M340.0 68.9h.6M335.8 71.3h.6M339.5 71.3h.6M341.4 70.2h.6M338.6 64.6h.6M341.5 70.8h.6M340.5 65.2h.6M340.1 66.9h.6M338.7 71.6h.6M338.1 64.3h.6M338.7 69.1h.6M339.4 67.7h.6M340.3 66.6h.6M340.1 64.8h.6M338.6 68.1h.6M339.4 65.8h.6M340.0 69.6h.6M335.8 70.1h.6M337.6 63.6h.6M337.5 65.7h.6M338.8 66.2h.6M338.6 64.0h.6M338.7 64.2h.6M337.4 67.2h.6M340.6 66.5h.6M339.8 62.9h.6M335.8 65.7h.6M339.3 68.3h.6M336.9 64.0h.6M342.8 64.7h.6M338.3 71.0h.6M338.4 70.3h.6M339.4 62.9h.6M338.8 63.6h.6M339.1 67.9h.6M342.5 64.0h.6M339.7 66.4h.6M341.0 65.9h.6M341.6 68.4h.6M337.2 60.7h.6M342.8 61.5h.6M340.7 63.9h.6M341.2 69.5h.6M337.4 66.6h.6M341.0 62.7h.6M340.1 68.2h.6M338.1 68.8h.6M344.0 66.4h.6M340.4 66.2h.6M338.7 68.1h.6M339.6 70.0h.6M341.2 67.4h.6M341.6 68.3h.6M340.5 66.9h.6M341.8 66.0h.6M342.3 64.7h.6M336.6 67.6h.6M338.2 66.2h.6M337.3 66.4h.6M339.4 69.3h.6M342.3 68.2h.6M340.6 69.2h.6M337.0 63.1h.6M338.6 68.4h.6M341.4 65.5h.6M338.1 65.0h.6M339.0 64.9h.6M339.9 70.0h.6M335.4 69.1h.6M340.9 65.2h.6M340.0 64.2h.6M340.4 67.0h.6M337.2 65.9h.6M337.6 71.1h.6M338.0 63.3h.6M339.8 62.4h.6M339.4 66.4h.6M339.5 67.0h.6M343.0 67.3h.6M342.0 68.9h.6M337.7 72.2h.6M337.9 66.1h.6M342.8 65.6h.6M338.6 62.6h.6M342.1 67.6h.6M339.2 63.1h.6M339.6 62.9h.6M340.0 61.4h.6M336.9 59.4h.6M336.4 61.5h.6M338.5 62.4h.6M340.5 56.2h.6M337.9 61.6h.6M339.4 55.3h.6M337.5 58.1h.6M338.9 55.9h.6M339.1 55.1h.6M337.7 55.2h.6M340.3 61.7h.6M338.0 60.4h.6M340.4 56.7h.6M337.4 56.7h.6M336.7 62.3h.6M336.0 60.5h.6M339.5 62.2h.6M338.5 57.5h.6M337.7 56.5h.6M337.3 63.7h.6M337.6 56.5h.6M339.8 57.5h.6M338.9 56.3h.6M335.5 57.8h.6M336.6 57.8h.6M336.3 60.3h.6M338.6 62.0h.6M338.3 59.1h.6M339.3 59.4h.6M337.6 57.9h.6M337.7 63.6h.6M337.4 57.5h.6M339.0 56.1h.6M336.8 58.7h.6M337.5 59.8h.6M335.9 61.1h.6M339.1 57.4h.6M338.3 74.3h.6M341.4 76.3h.6M334.2 73.4h.6M340.3 70.1h.6M349.6 70.2h.6M348.2 76.5h.6M351.4 69.2h.6M336.8 68.8h.6M339.8 77.1h.6M345.6 69.5h.6M335.9 75.5h.6M345.2 68.0h.6M344.6 69.9h.6M339.3 69.0h.6M351.8 72.6h.6M345.1 70.0h.6M340.8 74.5h.6M347.4 77.1h.6M338.5 70.4h.6M341.3 71.1h.6M348.8 71.7h.6M340.7 73.0h.6M344.2 71.5h.6M334.2 75.4h.6M336.1 76.5h.6M338.4 70.6h.6M343.6 77.1h.6M340.9 72.8h.6M341.5 69.1h.6M339.2 77.2h.6M328.6 40.1h.6M328.2 35.3h.6M323.5 35.5h.6M316.8 43.3h.6" stroke="#111" stroke-width="0.75" stroke-opacity="0.8" fill="none"/>
<path d="M336 40.2H358.6M346.4 32.2V48.2" stroke="#222" stroke-width="0.8" fill="none"/>
<text x="345.8" y="39.0" font-size="8" text-anchor="end" textLength="8.3" lengthAdjust="spacingAndGlyphs" >14</text>
<text x="347.4" y="39.0" font-size="8" textLength="8.6" lengthAdjust="spacingAndGlyphs" >45</text>
<text x="345.8" y="47.6" font-size="8" text-anchor="end" textLength="8.3" lengthAdjust="spacingAndGlyphs" >24</text>
<text x="347.4" y="47.6" font-size="8" textLength="8.6" lengthAdjust="spacingAndGlyphs" >17</text>
<text font-size="4.2" style="fill:#444;stroke:none" text-anchor="middle" transform="translate(303.6,29) rotate(-90)">10<tspan font-size="2.9" dy="-1.6">0</tspan></text>
<text font-size="4.2" style="fill:#444;stroke:none" text-anchor="middle" transform="translate(303.6,40.8) rotate(-90)">10<tspan font-size="2.9" dy="-1.6">1</tspan></text>
<text font-size="4.2" style="fill:#444;stroke:none" text-anchor="middle" transform="translate(303.6,53.7) rotate(-90)">10<tspan font-size="2.9" dy="-1.6">2</tspan></text>
<text font-size="4.2" style="fill:#444;stroke:none" text-anchor="middle" transform="translate(303.6,65.4) rotate(-90)">10<tspan font-size="2.9" dy="-1.6">3</tspan></text>
<text font-size="4.2" style="fill:#444;stroke:none" text-anchor="middle" transform="translate(303.6,75.2) rotate(-90)">10<tspan font-size="2.9" dy="-1.6">4</tspan></text>
<text x="307.8" y="84.2" font-size="4.2" text-anchor="middle" style="fill:#444;stroke:none">10<tspan font-size="2.9" dy="-1.6">0</tspan></text>
<text x="320.8" y="84.2" font-size="4.2" text-anchor="middle" style="fill:#444;stroke:none">10<tspan font-size="2.9" dy="-1.6">1</tspan></text>
<text x="334.3" y="84.2" font-size="4.2" text-anchor="middle" style="fill:#444;stroke:none">10<tspan font-size="2.9" dy="-1.6">2</tspan></text>
<text x="347.2" y="84.2" font-size="4.2" text-anchor="middle" style="fill:#444;stroke:none">10<tspan font-size="2.9" dy="-1.6">3</tspan></text>
<text x="359.5" y="84.2" font-size="4.2" text-anchor="middle" style="fill:#444;stroke:none">10<tspan font-size="2.9" dy="-1.6">4</tspan></text>
<rect x="376.4" y="32.2" width="52.5" height="46.6" fill="none" stroke="#444" stroke-width="0.8"/>
<line x1="402.5" y1="32.2" x2="402.5" y2="78.8" stroke="#777" stroke-width="0.6" />
<line x1="376.4" y1="63.2" x2="428.9" y2="63.2" stroke="#999" stroke-width="0.6" />
<path d="M407.4 56.7h.6M404.7 57.1h.6M387.2 71.2h.6M396.9 65.6h.6M382.2 75.4h.6M405.7 59.3h.6M402.2 54.8h.6M406.7 55.7h.6M404.3 56.1h.6M383.7 73.5h.6M405.4 56.4h.6M382.4 71.9h.6M399.9 59.5h.6M404.7 60.3h.6M393.0 64.1h.6M386.0 67.1h.6M392.9 68.2h.6M411.7 55.1h.6M397.7 61.5h.6M388.3 70.1h.6M381.4 72.0h.6M395.5 63.4h.6M386.1 75.1h.6M395.2 67.1h.6M385.1 72.6h.6M386.6 70.0h.6M393.7 59.9h.6M399.9 61.8h.6M407.4 56.6h.6M404.1 61.2h.6M398.1 69.1h.6M399.7 62.2h.6M387.3 73.7h.6M389.3 65.0h.6M400.2 64.7h.6M395.6 67.0h.6M393.9 70.0h.6M390.7 70.1h.6M396.4 65.0h.6M399.5 66.2h.6M384.6 70.2h.6M401.7 61.6h.6M387.9 73.7h.6M383.7 70.4h.6M383.7 69.2h.6M398.5 63.4h.6M386.4 71.5h.6M391.8 69.0h.6M408.9 56.1h.6M390.4 65.4h.6M401.6 60.6h.6M403.5 61.9h.6M385.6 70.5h.6M395.1 63.5h.6M393.2 62.1h.6M392.6 69.2h.6M391.0 74.3h.6M391.1 62.8h.6M400.8 62.7h.6M401.4 62.7h.6M391.2 65.5h.6M402.1 57.9h.6M388.4 66.1h.6M393.1 63.3h.6M396.8 63.7h.6M407.2 57.4h.6M405.7 56.8h.6M399.5 64.1h.6M384.0 73.7h.6M396.0 59.8h.6M384.3 77.7h.6M410.2 57.0h.6M383.2 71.2h.6M396.9 69.2h.6M393.5 67.4h.6M389.1 69.6h.6M399.5 67.7h.6M378.1 68.9h.6M399.6 55.5h.6M400.7 62.6h.6M409.0 53.0h.6M390.6 64.7h.6M402.9 63.7h.6M395.0 66.3h.6M389.7 64.3h.6M408.3 52.1h.6M394.8 67.6h.6M407.9 60.9h.6M386.9 63.9h.6M401.0 60.9h.6M408.2 53.2h.6M393.8 59.6h.6M406.0 55.6h.6M394.5 59.5h.6M406.6 53.9h.6M402.7 64.3h.6M403.6 59.8h.6M385.1 74.8h.6M393.4 67.9h.6M399.3 62.5h.6M389.8 71.9h.6M392.3 62.7h.6M399.5 59.9h.6M400.5 63.3h.6M383.6 70.8h.6M393.7 64.1h.6M392.3 70.8h.6M393.7 70.9h.6M386.8 68.8h.6M380.7 72.8h.6M392.7 68.4h.6M387.3 71.5h.6M403.9 55.5h.6M389.8 70.7h.6M392.9 68.1h.6M406.8 55.9h.6M392.5 76.6h.6M410.1 57.8h.6M408.9 56.8h.6M403.5 61.6h.6M400.6 70.6h.6M392.1 70.6h.6M391.0 65.3h.6M395.9 65.1h.6M399.6 61.4h.6M392.1 65.0h.6M395.2 65.4h.6M392.5 67.5h.6M393.1 65.9h.6M398.2 60.5h.6M383.3 76.5h.6M396.2 58.2h.6M400.9 62.9h.6M400.7 60.4h.6M389.6 69.7h.6M390.9 59.6h.6M406.5 61.6h.6M396.2 57.8h.6M392.1 63.9h.6M390.8 70.1h.6M395.1 62.5h.6M397.2 61.6h.6M402.1 51.5h.6M407.8 53.4h.6M401.6 60.3h.6M398.5 64.4h.6M390.3 67.3h.6M410.0 53.9h.6M383.8 74.7h.6M386.7 68.7h.6M389.8 66.0h.6M396.7 70.2h.6M393.4 63.0h.6M411.1 56.6h.6M399.6 61.4h.6M386.8 76.1h.6M385.8 69.5h.6M408.2 56.4h.6M395.6 65.4h.6M388.0 69.2h.6M399.5 62.3h.6M399.4 58.6h.6M404.8 56.9h.6M387.9 68.8h.6M401.2 62.5h.6M400.6 60.1h.6M394.5 60.3h.6M383.6 72.1h.6M397.5 62.4h.6M394.3 62.1h.6M405.6 61.2h.6M397.4 64.3h.6M390.0 71.4h.6M394.9 62.1h.6M395.1 63.2h.6M389.6 72.3h.6M398.0 57.4h.6M382.5 75.5h.6M382.7 74.4h.6M396.6 61.7h.6M384.3 73.2h.6M404.4 53.8h.6M396.4 64.4h.6M385.0 68.2h.6M394.6 60.6h.6M390.7 72.8h.6M398.4 59.6h.6M385.6 64.6h.6M396.0 67.3h.6M380.7 73.0h.6M385.6 59.7h.6M406.1 56.0h.6M386.1 74.7h.6M393.5 67.1h.6M403.5 64.2h.6M408.9 53.6h.6M391.8 69.2h.6M397.7 59.1h.6M384.8 73.0h.6M397.6 68.0h.6M388.6 71.3h.6M403.8 58.5h.6M402.4 52.1h.6M392.9 65.0h.6M382.9 69.5h.6M383.4 76.2h.6M391.2 65.1h.6M386.7 72.3h.6M381.5 71.6h.6M404.7 63.8h.6M386.6 67.0h.6M395.2 65.0h.6M384.6 73.4h.6M400.7 57.3h.6M402.0 61.4h.6M396.1 67.3h.6M403.1 61.5h.6M389.0 62.5h.6M397.3 63.7h.6M382.1 67.2h.6M390.3 74.9h.6M391.3 67.7h.6M393.5 64.2h.6M407.1 57.8h.6M395.7 65.8h.6M381.3 71.0h.6M405.7 62.1h.6M384.9 71.6h.6M378.7 71.1h.6M402.9 63.5h.6M406.2 61.4h.6M394.5 69.4h.6M386.7 72.9h.6M394.8 61.7h.6M391.3 70.8h.6M390.4 74.6h.6M408.1 57.5h.6M393.8 71.2h.6M385.9 69.0h.6M396.8 66.8h.6M385.4 75.3h.6M398.5 56.8h.6M386.4 65.6h.6M384.2 70.5h.6M400.3 61.0h.6M382.2 76.1h.6M386.8 70.2h.6M391.6 67.0h.6M392.4 66.3h.6M408.7 54.6h.6M398.9 63.7h.6M382.7 75.9h.6M395.6 64.0h.6M394.3 66.2h.6M390.3 66.7h.6M410.3 55.8h.6M404.0 56.1h.6M409.2 59.5h.6M389.7 68.7h.6M385.2 73.2h.6M397.5 60.2h.6M396.2 62.6h.6M384.4 73.4h.6M409.5 53.7h.6M394.0 63.3h.6M387.1 66.7h.6M393.7 65.8h.6M404.1 58.2h.6M410.4 54.8h.6M395.5 68.7h.6M392.8 65.3h.6M378.3 70.5h.6M385.0 71.8h.6M407.1 49.0h.6M383.2 69.2h.6M395.5 67.9h.6M402.2 61.2h.6M395.6 62.0h.6M384.9 70.2h.6M394.4 64.8h.6M399.7 54.9h.6M403.6 59.8h.6M397.6 61.5h.6M395.2 71.0h.6M388.7 65.8h.6M391.3 71.0h.6M406.7 53.4h.6M396.8 66.9h.6M400.7 56.9h.6M384.5 75.4h.6M387.6 68.8h.6M396.4 60.7h.6M398.4 61.6h.6M389.1 70.9h.6M394.5 66.5h.6M392.0 72.6h.6M382.8 76.9h.6M382.2 65.2h.6M396.0 62.5h.6M388.2 62.9h.6M392.2 65.5h.6M400.9 62.4h.6M389.2 64.5h.6M379.6 72.3h.6M382.8 74.6h.6M384.4 71.9h.6M408.9 59.6h.6M395.2 65.7h.6M389.4 70.8h.6M394.7 71.1h.6M392.8 64.7h.6M382.4 74.4h.6M382.4 70.9h.6M385.3 73.1h.6M395.8 67.7h.6M408.6 59.1h.6M399.6 61.1h.6M395.3 62.0h.6M384.4 70.2h.6M386.1 66.7h.6M383.9 73.6h.6M408.0 59.5h.6M386.4 63.0h.6M380.8 67.9h.6M407.2 60.3h.6M381.3 69.5h.6M399.5 62.4h.6M382.4 69.9h.6M384.6 75.4h.6M392.1 69.7h.6M388.6 70.3h.6M404.5 60.3h.6M398.3 62.4h.6M398.2 64.3h.6M401.2 66.4h.6M392.3 70.7h.6M386.5 69.0h.6M400.6 57.6h.6M382.3 73.6h.6M400.2 59.9h.6M390.6 68.4h.6M396.7 61.3h.6M405.7 58.9h.6M396.1 64.1h.6M404.3 58.9h.6M403.8 58.0h.6M389.3 71.3h.6M384.1 68.9h.6M392.0 68.3h.6M382.3 76.0h.6M385.8 74.0h.6M388.5 73.5h.6M407.9 57.5h.6M391.2 68.5h.6M383.8 72.7h.6M399.2 55.7h.6M395.7 65.0h.6M389.9 67.6h.6M392.0 66.0h.6M395.2 73.1h.6M406.0 49.8h.6M396.7 63.6h.6M399.4 65.7h.6M389.1 72.7h.6M384.0 77.6h.6M396.2 59.4h.6M381.3 71.9h.6M386.3 73.6h.6M382.2 73.6h.6M398.1 68.4h.6M381.6 75.8h.6M405.9 57.2h.6M398.2 63.9h.6M388.6 68.7h.6M394.9 65.3h.6M403.6 55.9h.6M401.6 59.7h.6M391.4 65.8h.6M390.8 68.9h.6M392.1 62.1h.6M401.1 54.9h.6M391.9 68.8h.6M392.3 67.7h.6M409.3 50.4h.6M395.7 63.5h.6M393.9 62.0h.6M389.8 76.0h.6M386.5 65.8h.6M386.3 77.5h.6M406.6 53.1h.6M391.0 69.4h.6M387.6 69.6h.6M393.9 64.3h.6M412.3 54.8h.6M402.1 62.3h.6M397.8 61.6h.6M388.9 66.3h.6M397.7 70.0h.6M398.8 66.9h.6M391.6 67.9h.6M383.6 72.5h.6M387.3 71.8h.6M409.2 54.3h.6M387.4 74.9h.6M385.9 68.4h.6M393.5 66.1h.6M381.3 72.6h.6M393.8 70.4h.6M403.6 64.6h.6M399.3 61.2h.6M386.2 73.4h.6M389.5 74.0h.6M398.9 60.8h.6M401.4 56.6h.6M391.1 71.5h.6M398.1 64.2h.6M401.6 59.1h.6M391.6 72.6h.6M395.9 65.0h.6M390.8 61.8h.6M403.4 59.6h.6M407.3 55.2h.6M407.6 61.8h.6M382.3 74.5h.6M394.4 64.6h.6M392.1 68.6h.6M392.8 67.4h.6M392.0 62.2h.6M380.4 76.4h.6M385.1 71.3h.6M402.0 64.5h.6M392.2 75.4h.6M397.4 59.0h.6M396.4 60.3h.6M401.7 56.7h.6M394.2 63.2h.6M388.3 67.5h.6M394.9 65.1h.6M390.8 71.9h.6M401.2 55.5h.6M398.5 56.8h.6M393.1 59.8h.6M401.8 63.5h.6M394.7 69.8h.6M392.7 61.2h.6M388.8 63.8h.6M386.9 71.5h.6M393.7 69.7h.6M397.6 66.5h.6M387.4 71.4h.6M383.1 76.4h.6M384.1 74.4h.6M382.8 72.3h.6M393.9 72.4h.6M398.0 62.5h.6M398.0 58.6h.6M391.0 66.3h.6M389.5 63.6h.6M406.2 56.3h.6M400.2 64.7h.6M392.0 62.7h.6M387.4 74.7h.6M391.2 75.2h.6M403.8 59.5h.6M396.3 59.8h.6M403.8 55.1h.6M391.3 66.5h.6M395.5 60.0h.6M388.1 65.8h.6M390.3 67.5h.6M391.4 66.9h.6M388.4 72.0h.6M391.8 63.0h.6M400.7 67.1h.6M397.1 67.0h.6M402.6 62.2h.6M396.9 61.1h.6M400.6 66.7h.6M393.0 65.2h.6M406.6 62.4h.6M385.2 76.1h.6M398.3 59.1h.6M398.8 60.3h.6M388.6 76.4h.6M400.0 64.6h.6M401.7 59.2h.6M393.4 66.8h.6M397.7 63.5h.6M383.8 70.7h.6M390.0 68.0h.6M388.7 67.4h.6M403.9 56.5h.6M384.3 74.7h.6M395.2 61.3h.6M405.1 59.7h.6M385.6 72.4h.6M402.8 61.6h.6M402.3 62.4h.6M390.2 72.9h.6M386.6 73.5h.6M389.1 71.9h.6M401.5 59.3h.6M386.2 73.6h.6M389.7 65.7h.6M390.8 67.2h.6M391.6 70.1h.6M397.5 62.8h.6M390.7 69.7h.6M387.6 66.8h.6M401.2 65.0h.6M389.8 66.8h.6M388.9 70.9h.6M395.0 64.8h.6M411.9 55.2h.6M409.9 52.1h.6M389.8 65.3h.6M401.9 52.9h.6M384.8 71.6h.6M379.3 72.6h.6M405.0 59.1h.6M394.3 70.5h.6M404.9 49.4h.6M384.5 68.3h.6M387.4 71.8h.6M403.7 62.6h.6M389.2 70.4h.6M401.4 61.1h.6M392.6 68.5h.6M390.5 70.3h.6M392.0 73.0h.6M385.4 74.3h.6M400.3 56.4h.6M387.2 69.1h.6M401.1 61.0h.6M386.2 68.7h.6M390.0 67.7h.6M389.0 67.6h.6M401.0 57.8h.6M386.0 74.2h.6M401.0 58.9h.6M384.0 69.4h.6M385.7 69.4h.6M398.0 62.7h.6M399.9 68.6h.6M402.0 60.4h.6M404.5 62.8h.6M402.2 61.1h.6M395.0 57.2h.6M399.5 62.8h.6M382.2 71.6h.6M384.0 68.5h.6M386.6 67.5h.6M393.4 72.4h.6M402.8 53.3h.6M389.4 67.0h.6M387.3 74.9h.6M392.7 68.9h.6M406.8 49.7h.6M402.8 58.5h.6M387.6 68.7h.6M401.2 59.4h.6M399.3 64.2h.6M385.5 70.1h.6M381.5 74.1h.6M389.6 74.2h.6M402.9 52.2h.6M404.9 55.9h.6M406.6 57.6h.6M394.4 60.9h.6M398.9 59.6h.6M393.4 61.4h.6M382.3 75.1h.6M382.6 72.1h.6M410.6 55.7h.6M399.5 65.0h.6M399.2 61.8h.6M390.4 67.0h.6M396.8 64.4h.6M411.1 52.7h.6M409.0 49.8h.6M389.3 73.0h.6M404.6 58.3h.6M396.8 66.3h.6M377.8 73.1h.6M384.0 76.3h.6M393.5 68.2h.6M395.0 59.7h.6M393.8 65.9h.6M397.5 62.7h.6M391.5 68.3h.6M387.2 70.0h.6M388.7 71.4h.6M388.7 68.0h.6M391.9 68.0h.6M398.1 60.0h.6M406.9 56.1h.6M396.2 67.5h.6M407.3 53.7h.6M392.0 69.5h.6M401.5 56.7h.6M383.7 72.1h.6M384.2 72.3h.6M395.0 69.2h.6M395.6 61.6h.6M395.5 68.7h.6M389.0 64.2h.6M399.7 60.7h.6M388.9 72.8h.6M394.2 67.9h.6M391.2 64.1h.6M387.6 66.1h.6M403.5 61.4h.6M378.6 72.9h.6M398.3 64.4h.6M401.0 58.3h.6M400.7 60.4h.6M393.3 74.4h.6M390.3 73.9h.6M387.5 73.6h.6M386.5 66.4h.6M400.8 61.5h.6M395.7 64.5h.6M396.1 63.6h.6M388.9 63.3h.6M404.8 58.5h.6M390.0 69.1h.6M394.9 62.2h.6M392.1 73.2h.6M401.0 55.7h.6M390.5 68.3h.6M385.3 72.6h.6M397.9 54.8h.6M399.6 56.2h.6M394.1 62.0h.6M395.0 67.6h.6M388.3 73.3h.6M399.4 63.5h.6M391.5 68.3h.6M391.7 59.5h.6M388.2 70.8h.6M393.2 64.4h.6M398.6 66.2h.6M385.4 76.9h.6M394.6 73.1h.6M382.5 76.9h.6M389.3 72.1h.6M390.8 64.3h.6M409.1 54.3h.6M398.0 58.1h.6M403.4 61.6h.6M392.6 62.4h.6M384.0 72.4h.6M401.1 57.2h.6M394.7 63.4h.6M389.5 70.6h.6M391.2 65.7h.6M395.3 65.4h.6M396.6 60.0h.6M390.3 73.4h.6M397.2 60.8h.6M410.7 56.4h.6M405.1 64.7h.6M381.4 66.5h.6M396.9 59.8h.6M405.5 56.0h.6M401.1 64.3h.6M389.2 67.5h.6M387.7 71.7h.6M386.7 68.5h.6M393.5 68.0h.6M383.4 69.3h.6M390.4 71.3h.6M389.6 58.2h.6M391.2 61.0h.6M386.9 77.5h.6M404.0 58.5h.6M387.6 67.3h.6M392.6 74.5h.6M406.5 59.7h.6M392.5 70.7h.6M380.9 74.0h.6M383.6 75.7h.6M401.3 61.7h.6M396.9 57.4h.6M405.1 59.1h.6M396.0 63.4h.6M405.9 61.1h.6M405.6 61.4h.6M394.5 62.8h.6M396.6 61.4h.6M393.9 66.3h.6M392.3 69.2h.6M397.1 61.7h.6M392.2 66.5h.6M390.7 70.2h.6M395.1 66.2h.6M397.5 67.1h.6M398.7 62.8h.6M398.5 58.9h.6M384.1 66.8h.6M395.5 67.3h.6M394.8 63.7h.6M386.0 70.4h.6M386.9 69.9h.6M401.9 53.8h.6M390.7 66.7h.6M377.5 68.8h.6M393.7 64.3h.6M384.0 70.0h.6M407.0 57.2h.6M397.5 62.1h.6M395.2 65.2h.6M384.4 75.5h.6M400.9 57.5h.6M383.1 73.0h.6M403.2 57.2h.6M391.1 76.7h.6M397.3 63.3h.6M394.0 58.4h.6M410.8 55.5h.6M399.0 71.0h.6M398.7 58.5h.6M397.3 75.6h.6M381.3 75.0h.6M399.0 65.3h.6M393.6 63.8h.6M395.7 63.2h.6M390.0 64.1h.6M393.7 61.9h.6M401.9 51.7h.6M395.6 68.4h.6M382.5 70.2h.6M390.7 69.4h.6M389.8 69.9h.6M394.9 62.5h.6M404.0 58.1h.6M384.6 72.4h.6M387.8 68.4h.6M409.6 53.8h.6M398.2 62.5h.6M394.1 61.7h.6M402.9 54.0h.6M382.5 71.2h.6M409.7 53.9h.6M406.5 61.0h.6M408.3 59.9h.6M393.4 67.1h.6M406.5 59.3h.6M404.7 57.7h.6M392.7 70.5h.6M392.4 67.2h.6M388.1 71.5h.6M392.2 65.8h.6M396.2 63.8h.6M397.9 69.4h.6M389.5 64.6h.6M396.0 63.9h.6M384.6 70.5h.6M387.3 74.1h.6M392.3 73.4h.6M394.5 64.0h.6M392.1 69.2h.6M400.2 63.0h.6M384.9 66.3h.6M384.7 71.7h.6M398.6 61.7h.6M384.6 64.2h.6M386.5 73.7h.6M391.5 69.0h.6M404.6 58.2h.6M391.6 63.4h.6M390.0 66.0h.6M396.1 61.5h.6M383.1 75.6h.6M393.4 62.3h.6M395.8 65.5h.6M396.8 69.5h.6M387.1 71.3h.6M399.3 59.4h.6M387.1 71.1h.6M389.1 62.5h.6M390.0 69.2h.6M398.1 53.3h.6M384.0 69.4h.6M388.2 74.9h.6M404.5 62.0h.6M380.7 74.4h.6M393.0 62.7h.6M388.1 73.4h.6M383.9 73.0h.6M388.7 70.3h.6M397.7 64.9h.6M383.8 69.3h.6M385.0 75.3h.6M378.9 69.3h.6M387.5 75.8h.6M382.9 68.2h.6M390.7 65.6h.6M405.8 53.9h.6M400.3 63.3h.6M394.1 68.1h.6M383.7 74.7h.6M394.7 66.9h.6M387.5 72.1h.6M394.9 64.5h.6M379.3 69.6h.6M401.5 51.3h.6M395.4 55.9h.6M392.7 66.3h.6M391.1 66.8h.6M393.1 65.6h.6M393.7 66.5h.6M408.6 53.4h.6M405.4 53.0h.6M392.8 60.8h.6M384.5 65.7h.6M389.0 73.7h.6M400.0 64.2h.6M380.6 70.7h.6M400.1 59.7h.6M403.7 59.6h.6M391.2 73.4h.6M385.6 69.7h.6M396.2 64.4h.6M392.4 70.9h.6M393.9 59.1h.6M385.3 69.4h.6M394.9 64.6h.6M385.9 69.0h.6M394.4 72.9h.6M388.8 72.5h.6M393.3 66.6h.6M396.3 60.1h.6M400.6 63.5h.6M397.4 65.1h.6M394.7 63.0h.6M403.4 56.6h.6M392.9 60.8h.6M389.9 68.2h.6M402.1 62.4h.6M401.2 63.6h.6M393.4 68.0h.6M394.4 68.2h.6M390.8 65.7h.6M381.9 72.9h.6M388.2 74.2h.6M402.1 60.8h.6M399.6 58.2h.6M390.0 70.3h.6M387.1 73.7h.6M388.2 72.4h.6M392.5 67.0h.6M403.5 56.2h.6M393.1 67.6h.6M404.9 63.3h.6M385.4 72.5h.6M388.2 67.3h.6M389.8 69.8h.6M392.2 62.2h.6M401.0 60.8h.6M406.9 54.4h.6M387.8 73.6h.6M392.3 67.1h.6M396.1 67.6h.6M404.2 66.1h.6M399.4 60.4h.6M383.0 70.7h.6M384.6 74.3h.6M404.4 57.1h.6M392.9 66.7h.6M385.2 69.9h.6M393.5 67.8h.6M395.8 64.3h.6M394.5 57.0h.6M389.3 68.1h.6M386.1 72.7h.6M395.9 68.3h.6M380.7 73.4h.6M402.0 56.3h.6M389.6 73.0h.6M403.4 55.9h.6M383.9 73.5h.6M398.9 63.3h.6M393.1 68.8h.6M384.4 72.7h.6M391.8 63.0h.6M405.9 60.0h.6M389.3 67.4h.6M392.9 64.3h.6M401.5 67.0h.6M407.4 58.4h.6M386.6 67.1h.6M392.3 60.1h.6M393.1 56.9h.6M391.4 62.2h.6M387.5 64.0h.6M396.5 57.6h.6M396.4 54.6h.6M394.7 58.7h.6M392.5 59.4h.6M394.6 59.7h.6M396.0 57.3h.6M390.4 57.4h.6M392.8 58.7h.6M392.0 57.4h.6M396.2 61.2h.6M394.7 56.9h.6M389.5 58.8h.6M391.8 59.2h.6M399.7 54.1h.6M390.6 58.8h.6M394.4 58.1h.6M391.8 58.3h.6M398.0 56.7h.6M393.6 61.1h.6M392.4 59.9h.6M390.0 57.3h.6M393.0 58.0h.6M396.6 59.1h.6M396.1 56.5h.6M389.5 60.2h.6M399.0 56.7h.6M393.0 59.9h.6M390.4 59.4h.6M394.3 58.2h.6M391.8 57.6h.6M391.9 59.9h.6M391.8 57.5h.6M393.5 62.1h.6M392.2 59.1h.6M388.2 60.1h.6M395.6 59.5h.6M392.1 59.0h.6M397.8 57.4h.6M395.6 57.9h.6M395.9 56.5h.6M394.4 56.6h.6M398.1 55.7h.6M392.8 61.2h.6M390.5 58.5h.6M395.0 57.4h.6M384.8 60.8h.6M392.6 60.4h.6M394.5 62.2h.6M392.5 57.3h.6M398.0 58.2h.6M396.2 58.0h.6M394.2 57.9h.6M392.5 60.0h.6M397.5 54.9h.6M391.6 61.0h.6M392.5 59.5h.6M396.3 55.8h.6M395.8 61.0h.6M400.6 57.9h.6M393.1 61.1h.6M387.6 57.9h.6M396.0 57.3h.6M398.0 56.1h.6M393.3 60.0h.6M399.0 59.5h.6M399.7 52.9h.6M391.6 59.4h.6M392.2 58.9h.6M389.7 62.0h.6M395.6 57.9h.6M396.2 55.3h.6M395.8 57.5h.6M389.7 58.0h.6M391.3 57.9h.6M389.1 60.3h.6M388.5 59.5h.6M389.4 60.7h.6M388.6 57.4h.6M393.2 63.3h.6M395.2 60.6h.6M395.9 59.3h.6M393.7 56.1h.6M391.6 55.2h.6M393.8 56.9h.6M395.7 57.5h.6M392.8 63.3h.6M394.0 61.1h.6M392.8 57.9h.6M392.1 61.5h.6M393.9 60.9h.6M390.1 59.9h.6M397.3 59.8h.6M388.7 61.0h.6M395.3 56.8h.6M389.3 57.9h.6M398.8 56.6h.6M396.7 59.6h.6M391.1 56.9h.6M392.3 56.0h.6M390.1 60.9h.6M393.6 53.4h.6M395.2 61.7h.6M402.2 54.8h.6M389.3 61.6h.6M397.9 60.8h.6M391.9 56.4h.6M394.7 56.2h.6M396.7 62.0h.6M395.6 57.4h.6M395.2 57.9h.6M393.2 59.3h.6M393.8 60.7h.6M394.3 61.0h.6M397.7 57.5h.6M389.0 59.6h.6M392.2 59.1h.6M389.7 60.6h.6M390.6 62.2h.6M391.2 59.8h.6M397.4 60.9h.6M400.9 54.5h.6M398.3 58.1h.6M389.9 63.4h.6M394.0 61.0h.6M390.1 60.5h.6M395.3 56.4h.6M398.0 55.8h.6M395.7 57.6h.6M396.7 58.2h.6M393.3 58.3h.6M387.3 58.0h.6M387.3 59.4h.6M393.5 59.7h.6M395.7 59.6h.6M398.0 54.4h.6M392.7 58.3h.6M394.0 55.3h.6M394.6 57.2h.6M397.3 64.3h.6M393.6 58.8h.6M390.2 59.2h.6M397.4 56.2h.6M395.2 55.8h.6M395.1 54.5h.6M389.6 60.0h.6M393.8 58.1h.6M388.1 63.4h.6M387.2 57.7h.6M393.0 59.7h.6M392.4 61.7h.6M395.7 54.1h.6M398.5 58.3h.6M393.7 55.5h.6M399.7 57.6h.6M391.9 62.1h.6M396.3 57.7h.6M389.6 60.6h.6M394.2 57.1h.6M392.8 59.5h.6M393.1 61.0h.6M395.7 57.6h.6M387.6 60.5h.6M394.2 59.2h.6M391.1 61.1h.6M394.2 55.3h.6M395.1 58.3h.6M392.6 57.7h.6M392.6 60.0h.6M390.0 61.9h.6M395.6 58.6h.6M391.6 61.9h.6M395.3 56.2h.6M389.1 59.4h.6M398.3 55.1h.6M390.4 59.9h.6M397.6 57.5h.6M392.3 58.7h.6M395.6 55.6h.6M393.3 58.6h.6M396.0 57.0h.6M393.8 59.8h.6M398.0 56.6h.6M396.0 60.1h.6M396.0 58.3h.6M399.3 53.1h.6M391.5 59.1h.6M398.1 54.3h.6M394.0 60.4h.6M388.9 63.1h.6M395.4 58.0h.6M393.1 59.7h.6M399.3 53.9h.6M392.2 54.8h.6M394.0 57.5h.6M394.6 57.8h.6M387.5 57.8h.6M386.7 68.1h.6M387.3 68.8h.6M388.1 76.8h.6M390.5 69.4h.6M388.6 68.0h.6M385.6 71.2h.6M386.8 69.9h.6M388.0 67.7h.6M383.8 71.5h.6M389.9 69.9h.6M388.8 70.4h.6M385.9 73.0h.6M384.9 67.8h.6M396.2 63.7h.6M388.7 72.4h.6M388.9 69.3h.6M391.1 72.5h.6M389.0 71.1h.6M387.0 67.7h.6M388.3 72.0h.6M384.2 69.9h.6M388.3 71.3h.6M382.6 76.0h.6M387.6 76.1h.6M387.9 70.6h.6M382.5 74.8h.6M391.4 70.1h.6M383.6 74.6h.6M389.2 64.0h.6M385.2 71.0h.6M387.3 71.8h.6M384.8 73.2h.6M392.9 66.9h.6M389.2 72.3h.6M391.2 72.2h.6M388.5 70.7h.6M388.3 70.1h.6M386.9 70.4h.6M385.9 72.0h.6M388.1 73.6h.6M387.0 74.9h.6M386.2 70.4h.6M383.0 70.6h.6M385.8 69.8h.6M388.1 73.1h.6M385.3 72.4h.6M387.4 71.7h.6M386.2 72.7h.6M383.9 73.4h.6M384.2 72.0h.6M384.7 69.6h.6M385.8 70.2h.6M385.9 72.0h.6M389.4 71.1h.6M383.8 71.6h.6M381.3 72.5h.6M388.3 74.0h.6M385.4 70.7h.6M386.3 72.0h.6M393.1 67.9h.6M390.3 67.7h.6M388.1 67.0h.6M389.0 69.1h.6M386.9 69.2h.6M389.0 72.4h.6M385.0 69.2h.6M384.7 71.1h.6M385.4 73.5h.6M390.6 69.4h.6M390.6 70.9h.6M385.0 74.1h.6M389.5 66.1h.6M386.2 70.5h.6M389.3 67.9h.6M385.8 75.0h.6M389.0 70.1h.6M386.3 72.7h.6M385.8 75.8h.6M386.5 70.5h.6M387.0 71.4h.6M385.1 73.0h.6M383.1 72.2h.6M390.9 72.6h.6M385.6 73.8h.6M381.9 75.7h.6M380.8 73.9h.6M379.4 73.5h.6M385.0 71.2h.6M390.1 69.0h.6M382.4 69.1h.6M385.8 72.6h.6M381.9 75.3h.6M389.4 70.2h.6M387.5 69.8h.6M387.4 71.1h.6M390.1 70.5h.6M390.8 70.4h.6M389.2 74.6h.6M385.1 69.9h.6M383.2 73.7h.6M383.9 74.1h.6M382.1 73.4h.6M391.2 68.9h.6M386.1 69.1h.6M386.9 69.8h.6M387.1 72.9h.6M391.8 72.7h.6M385.2 70.4h.6M389.6 71.2h.6M387.4 72.3h.6M386.2 74.0h.6M381.7 74.0h.6M389.0 71.4h.6M384.7 74.3h.6M385.4 69.0h.6M387.2 71.2h.6M386.8 67.0h.6M389.5 65.4h.6M384.9 70.1h.6M387.0 67.5h.6M387.3 72.3h.6M386.7 73.7h.6M388.4 69.9h.6M386.0 71.3h.6M389.7 69.5h.6M384.8 71.5h.6M382.9 73.2h.6M386.5 72.2h.6M389.6 69.0h.6M385.3 70.0h.6M385.0 70.8h.6M385.7 73.6h.6M387.0 70.2h.6M386.2 75.0h.6M387.4 70.4h.6M382.2 76.5h.6M390.5 66.9h.6M388.1 69.0h.6M384.4 73.4h.6M390.1 71.0h.6M387.8 70.5h.6M390.4 74.7h.6M383.6 72.8h.6M390.9 70.3h.6M386.7 69.9h.6M381.3 77.5h.6M388.5 72.6h.6M385.8 72.7h.6M384.0 68.5h.6M386.1 72.4h.6M381.6 72.3h.6M388.1 71.7h.6M386.1 73.8h.6M385.9 69.8h.6M390.2 70.3h.6M386.7 73.4h.6M384.9 72.4h.6M384.2 71.6h.6M386.4 68.9h.6M389.3 68.6h.6M385.1 68.9h.6M383.9 74.8h.6M389.0 70.6h.6M386.8 68.4h.6M386.5 71.3h.6M392.0 66.0h.6M383.5 64.8h.6M387.1 74.0h.6M382.0 76.0h.6M385.8 68.1h.6M388.1 69.0h.6M389.5 70.6h.6M383.3 71.8h.6M388.8 68.4h.6M388.6 69.3h.6M386.3 70.9h.6M392.9 67.4h.6M386.6 71.8h.6M384.3 71.7h.6M387.7 69.1h.6M381.8 73.4h.6M390.6 65.7h.6M389.1 73.7h.6M385.6 67.6h.6M388.2 70.5h.6M388.0 71.6h.6M391.6 70.2h.6M385.0 72.6h.6M383.3 75.7h.6M381.4 70.8h.6M385.8 71.5h.6M382.6 73.4h.6M386.2 70.3h.6M387.7 69.5h.6M385.5 74.9h.6M384.2 70.6h.6M389.7 68.9h.6M386.1 70.9h.6M387.2 70.6h.6M389.1 70.7h.6M410.1 52.9h.6M411.3 52.6h.6M410.8 56.3h.6M411.5 51.2h.6M413.3 53.0h.6M408.9 57.0h.6M413.9 55.1h.6M409.7 52.9h.6M411.9 57.8h.6M410.9 50.8h.6M410.0 54.7h.6M406.6 53.2h.6M413.8 54.8h.6M409.0 53.1h.6M409.0 51.9h.6M412.7 54.2h.6M410.7 50.9h.6M414.3 54.9h.6M413.9 53.0h.6M412.0 55.7h.6M411.1 52.8h.6M412.1 52.3h.6M407.9 54.6h.6M410.9 56.4h.6M410.8 49.2h.6M409.6 54.0h.6M411.1 55.1h.6M407.6 50.6h.6M412.3 51.8h.6M413.1 55.1h.6M408.0 51.9h.6M410.8 52.3h.6M413.6 57.4h.6M411.4 51.7h.6M408.5 51.9h.6M408.6 48.7h.6M412.2 51.3h.6M414.2 51.1h.6M408.4 57.4h.6M410.6 56.4h.6M409.0 51.0h.6M410.0 58.0h.6M411.2 55.4h.6M410.5 53.3h.6M409.2 55.5h.6M414.7 54.5h.6M410.2 52.1h.6M410.2 49.9h.6M412.7 51.7h.6M410.6 53.7h.6M410.1 52.9h.6M412.4 52.1h.6M408.5 55.8h.6M412.0 51.4h.6M412.6 55.7h.6M411.9 52.7h.6M410.2 54.0h.6M410.5 51.3h.6M407.1 53.7h.6M410.3 52.0h.6M411.1 49.9h.6M412.3 53.7h.6M410.8 53.6h.6M409.8 55.5h.6M408.9 54.3h.6M410.4 51.5h.6M410.8 52.4h.6M412.9 48.3h.6M410.6 51.3h.6M409.5 56.5h.6M410.3 57.0h.6M409.6 55.4h.6M410.1 54.4h.6M406.2 55.0h.6M407.4 54.8h.6M408.2 50.0h.6M411.5 51.8h.6M410.4 56.3h.6M410.8 56.3h.6M412.8 54.2h.6M408.5 53.0h.6M412.8 52.9h.6M411.3 52.5h.6M409.1 51.7h.6M413.5 49.5h.6M407.7 54.0h.6M408.3 52.7h.6M410.1 53.2h.6M411.3 57.4h.6M410.2 55.0h.6M406.3 52.2h.6M409.9 55.0h.6M410.4 50.4h.6M415.6 56.0h.6M413.3 54.3h.6M410.8 53.3h.6M408.4 55.0h.6M411.2 56.9h.6M408.2 52.7h.6M410.9 51.6h.6M411.3 58.3h.6M409.7 53.7h.6M411.0 57.0h.6M409.9 52.2h.6M409.4 54.5h.6M413.6 52.3h.6M411.7 55.1h.6M409.9 53.1h.6M409.0 52.3h.6M410.9 57.1h.6M411.7 54.4h.6M412.2 49.3h.6M413.4 53.2h.6M411.4 51.7h.6M408.3 51.1h.6M414.5 52.4h.6M412.8 52.7h.6M412.2 53.8h.6M413.2 52.0h.6M407.6 49.7h.6M416.8 74.3h.6M412.6 64.2h.6M412.1 65.5h.6M413.1 60.6h.6M412.4 69.5h.6M417.0 69.7h.6M415.0 63.8h.6M411.7 65.5h.6M417.8 76.3h.6M407.4 70.6h.6M405.0 69.3h.6M417.8 62.4h.6M414.2 68.8h.6M417.9 66.9h.6M415.6 70.1h.6M415.2 74.5h.6M413.1 65.9h.6M412.3 73.4h.6M415.5 70.7h.6M410.4 61.4h.6M405.6 71.0h.6M409.5 71.5h.6M411.3 66.8h.6M406.9 74.4h.6M407.8 70.7h.6M405.4 76.4h.6M406.1 68.6h.6M415.4 64.0h.6M413.0 66.9h.6M417.5 62.3h.6M406.7 69.3h.6M413.5 69.8h.6M406.6 68.3h.6M404.9 71.4h.6M408.6 76.3h.6M384.8 38.7h.6M378.2 42.6h.6M382.4 51.3h.6" stroke="#111" stroke-width="0.75" stroke-opacity="0.8" fill="none"/>
<path d="M407.4 40.2H428.9M417.8 32.2V48.2" stroke="#222" stroke-width="0.8" fill="none"/>
<text x="417.2" y="39.0" font-size="8" text-anchor="end" textLength="8.3" lengthAdjust="spacingAndGlyphs" >40</text>
<text x="418.8" y="39.0" font-size="8" textLength="8.6" lengthAdjust="spacingAndGlyphs" >24</text>
<text x="417.2" y="47.6" font-size="8" text-anchor="end" textLength="8.3" lengthAdjust="spacingAndGlyphs" >34</text>
<text x="428.1" y="47.6" font-size="8" text-anchor="end" >2</text>
<text font-size="4.2" style="fill:#444;stroke:none" text-anchor="middle" transform="translate(374.4,29) rotate(-90)">10<tspan font-size="2.9" dy="-1.6">0</tspan></text>
<text font-size="4.2" style="fill:#444;stroke:none" text-anchor="middle" transform="translate(374.4,40.8) rotate(-90)">10<tspan font-size="2.9" dy="-1.6">1</tspan></text>
<text font-size="4.2" style="fill:#444;stroke:none" text-anchor="middle" transform="translate(374.4,53.7) rotate(-90)">10<tspan font-size="2.9" dy="-1.6">2</tspan></text>
<text font-size="4.2" style="fill:#444;stroke:none" text-anchor="middle" transform="translate(374.4,65.4) rotate(-90)">10<tspan font-size="2.9" dy="-1.6">3</tspan></text>
<text font-size="4.2" style="fill:#444;stroke:none" text-anchor="middle" transform="translate(374.4,75.2) rotate(-90)">10<tspan font-size="2.9" dy="-1.6">4</tspan></text>
<text x="378.6" y="84.2" font-size="4.2" text-anchor="middle" style="fill:#444;stroke:none">10<tspan font-size="2.9" dy="-1.6">0</tspan></text>
<text x="391.6" y="84.2" font-size="4.2" text-anchor="middle" style="fill:#444;stroke:none">10<tspan font-size="2.9" dy="-1.6">1</tspan></text>
<text x="405.1" y="84.2" font-size="4.2" text-anchor="middle" style="fill:#444;stroke:none">10<tspan font-size="2.9" dy="-1.6">2</tspan></text>
<text x="418.0" y="84.2" font-size="4.2" text-anchor="middle" style="fill:#444;stroke:none">10<tspan font-size="2.9" dy="-1.6">3</tspan></text>
<text x="430.3" y="84.2" font-size="4.2" text-anchor="middle" style="fill:#444;stroke:none">10<tspan font-size="2.9" dy="-1.6">4</tspan></text>
<rect x="292.05" y="124.2" width="226.05" height="107.5" fill="none" stroke="#111" stroke-width="1.8"/>
<line x1="289.25" y1="231.7" x2="292.05" y2="231.7" stroke="#111" stroke-width="1.3" />
<text x="287.4" y="234.8" font-size="8.6" text-anchor="end" >0</text>
<line x1="289.25" y1="220.95" x2="292.05" y2="220.95" stroke="#111" stroke-width="1.3" />
<text x="287.4" y="224.05" font-size="8.6" text-anchor="end" >5</text>
<line x1="289.25" y1="210.2" x2="292.05" y2="210.2" stroke="#111" stroke-width="1.3" />
<text x="287.4" y="213.3" font-size="8.6" text-anchor="end" >10</text>
<line x1="289.25" y1="199.45" x2="292.05" y2="199.45" stroke="#111" stroke-width="1.3" />
<text x="287.4" y="202.55" font-size="8.6" text-anchor="end" >15</text>
<line x1="289.25" y1="188.7" x2="292.05" y2="188.7" stroke="#111" stroke-width="1.3" />
<text x="287.4" y="191.8" font-size="8.6" text-anchor="end" >20</text>
<line x1="289.25" y1="177.95" x2="292.05" y2="177.95" stroke="#111" stroke-width="1.3" />
<text x="287.4" y="181.05" font-size="8.6" text-anchor="end" >25</text>
<line x1="289.25" y1="167.2" x2="292.05" y2="167.2" stroke="#111" stroke-width="1.3" />
<text x="287.4" y="170.3" font-size="8.6" text-anchor="end" >30</text>
<line x1="289.25" y1="156.45" x2="292.05" y2="156.45" stroke="#111" stroke-width="1.3" />
<text x="287.4" y="159.55" font-size="8.6" text-anchor="end" >35</text>
<line x1="289.25" y1="145.7" x2="292.05" y2="145.7" stroke="#111" stroke-width="1.3" />
<text x="287.4" y="148.8" font-size="8.6" text-anchor="end" >40</text>
<line x1="289.25" y1="134.95" x2="292.05" y2="134.95" stroke="#111" stroke-width="1.3" />
<text x="287.4" y="138.05" font-size="8.6" text-anchor="end" >45</text>
<line x1="289.25" y1="124.2" x2="292.05" y2="124.2" stroke="#111" stroke-width="1.3" />
<text x="287.4" y="127.3" font-size="8.6" text-anchor="end" >50</text>
<text x="0" y="0" font-size="7.8" text-anchor="middle" transform="translate(273,168.6) rotate(-90)">Percent of cells</text>
<rect x="303.90" y="177.95" width="16.6" height="53.75" fill="#111"/>
<rect x="321.10" y="156.45" width="15.40" height="75.25" fill="#fff" stroke="#111" stroke-width="1.2"/>
<line x1="312.2" y1="177.95" x2="312.2" y2="177.09" stroke="#111" stroke-width="1.1" />
<line x1="309.7" y1="177.09" x2="314.7" y2="177.09" stroke="#111" stroke-width="1.1" />
<line x1="328.8" y1="153.44" x2="328.8" y2="159.46" stroke="#111" stroke-width="1.1" />
<line x1="326.3" y1="153.44" x2="331.3" y2="153.44" stroke="#111" stroke-width="1.1" />
<line x1="326.3" y1="159.46" x2="331.3" y2="159.46" stroke="#111" stroke-width="1.1" />
<rect x="360.90" y="203.75" width="16.6" height="27.95" fill="#111"/>
<rect x="378.10" y="227.83" width="15.40" height="3.87" fill="#fff" stroke="#111" stroke-width="1.2"/>
<line x1="369.2" y1="203.75" x2="369.2" y2="195.15" stroke="#111" stroke-width="1.1" />
<line x1="366.7" y1="195.15" x2="371.7" y2="195.15" stroke="#111" stroke-width="1.1" />
<line x1="385.8" y1="227.18" x2="385.8" y2="228.47" stroke="#111" stroke-width="1.1" />
<line x1="383.3" y1="227.18" x2="388.3" y2="227.18" stroke="#111" stroke-width="1.1" />
<line x1="383.3" y1="228.47" x2="388.3" y2="228.47" stroke="#111" stroke-width="1.1" />
<rect x="417.90" y="133.88" width="16.6" height="97.82" fill="#111"/>
<rect x="435.10" y="182.03" width="15.40" height="49.66" fill="#fff" stroke="#111" stroke-width="1.2"/>
<line x1="426.2" y1="133.88" x2="426.2" y2="132.8" stroke="#111" stroke-width="1.1" />
<line x1="423.7" y1="132.8" x2="428.7" y2="132.8" stroke="#111" stroke-width="1.1" />
<line x1="442.8" y1="180.96" x2="442.8" y2="183.11" stroke="#111" stroke-width="1.1" />
<line x1="440.3" y1="180.96" x2="445.3" y2="180.96" stroke="#111" stroke-width="1.1" />
<line x1="440.3" y1="183.11" x2="445.3" y2="183.11" stroke="#111" stroke-width="1.1" />
<rect x="474.10" y="196.22" width="16.6" height="35.47" fill="#111"/>
<rect x="491.30" y="146.56" width="15.40" height="85.14" fill="#fff" stroke="#111" stroke-width="1.2"/>
<line x1="482.4" y1="196.22" x2="482.4" y2="189.13" stroke="#111" stroke-width="1.1" />
<line x1="479.9" y1="189.13" x2="484.9" y2="189.13" stroke="#111" stroke-width="1.1" />
<line x1="499.0" y1="144.41" x2="499.0" y2="148.71" stroke="#111" stroke-width="1.1" />
<line x1="496.5" y1="144.41" x2="501.5" y2="144.41" stroke="#111" stroke-width="1.1" />
<line x1="496.5" y1="148.71" x2="501.5" y2="148.71" stroke="#111" stroke-width="1.1" />
<line x1="348.75" y1="231.7" x2="348.75" y2="234.3" stroke="#111" stroke-width="1.1" />
<line x1="405.6" y1="231.7" x2="405.6" y2="234.3" stroke="#111" stroke-width="1.1" />
<line x1="462" y1="231.7" x2="462" y2="234.3" stroke="#111" stroke-width="1.1" />
<circle cx="385.4" cy="228" r="1.8" fill="#111"/>
<rect x="440.6" y="179.8" width="3.4" height="2.8" fill="#111"/>
<text x="320.2" y="243.6" font-size="7.4" text-anchor="middle" >Annexin - PI -</text>
<text x="377" y="243.6" font-size="7.4" text-anchor="middle" >Annexin + PI -</text>
<text x="433.8" y="243.6" font-size="7.4" text-anchor="middle" >Annexin + PI +</text>
<text x="490.4" y="243.6" font-size="7.4" text-anchor="middle" >Annexin - PI +</text>
<text x="9.5" y="281.9" font-size="12.8" font-weight="bold" >C</text>
<line x1="27" y1="298.8" x2="27" y2="438.1" stroke="#555" stroke-width="1.2" />
<line x1="26.5" y1="437.5" x2="213.75" y2="437.5" stroke="#111" stroke-width="1.1" />
<line x1="24.6" y1="437.5" x2="27" y2="437.5" stroke="#111" stroke-width="1" />
<text x="22.2" y="440.9" font-size="8.3" text-anchor="end" >0</text>
<line x1="24.6" y1="414.43" x2="27" y2="414.43" stroke="#111" stroke-width="1" />
<text x="22.2" y="417.83" font-size="8.3" text-anchor="end" >20</text>
<line x1="24.6" y1="391.36" x2="27" y2="391.36" stroke="#111" stroke-width="1" />
<text x="22.2" y="394.76" font-size="8.3" text-anchor="end" >40</text>
<line x1="24.6" y1="368.29" x2="27" y2="368.29" stroke="#111" stroke-width="1" />
<text x="22.2" y="371.69" font-size="8.3" text-anchor="end" >60</text>
<line x1="24.6" y1="345.22" x2="27" y2="345.22" stroke="#111" stroke-width="1" />
<text x="22.2" y="348.62" font-size="8.3" text-anchor="end" >80</text>
<line x1="24.6" y1="322.15" x2="27" y2="322.15" stroke="#111" stroke-width="1" />
<text x="19.9" y="325.55" font-size="8.3" text-anchor="end" textLength="11.3" lengthAdjust="spacingAndGlyphs" >100</text>
<line x1="24.6" y1="299.08" x2="27" y2="299.08" stroke="#111" stroke-width="1" />
<text x="19.9" y="302.48" font-size="8.3" text-anchor="end" textLength="11.3" lengthAdjust="spacingAndGlyphs" >120</text>
<text x="0" y="0" font-size="8.9" text-anchor="middle" textLength="34.5" lengthAdjust="spacingAndGlyphs" transform="translate(8.6,364.8) rotate(-90)">% ATP</text>
<defs>
<linearGradient id="gr" gradientUnits="userSpaceOnUse" x1="0" y1="322" x2="0" y2="437.5">
<stop offset="0" stop-color="#0a0a0a"/><stop offset="0.1" stop-color="#1a1a1a"/><stop offset="0.3" stop-color="#555"/><stop offset="0.5" stop-color="#e6e6e6"/><stop offset="0.7" stop-color="#999"/><stop offset="0.9" stop-color="#333"/><stop offset="1" stop-color="#111"/></linearGradient>
<linearGradient id="grh" x1="0" y1="0" x2="1" y2="0">
<stop offset="0" stop-color="#000" stop-opacity="0.45"/><stop offset="0.35" stop-color="#000" stop-opacity="0.2"/><stop offset="0.6" stop-color="#000" stop-opacity="0"/><stop offset="1" stop-color="#000" stop-opacity="0.2"/></linearGradient>
<pattern id="pt1" x="0" y="4.2" width="200" height="16.8" patternUnits="userSpaceOnUse">
<rect width="200" height="16.8" fill="#4a4a4a"/><path d="M0 0H200L0 15.2Z" fill="#444"/></pattern>
</defs>
<rect x="28.60" y="322.25" width="6.25" height="115.25" fill="url(#gr)" stroke="#333" stroke-width="0.5"/>
<rect x="28.60" y="322.25" width="6.25" height="115.25" fill="url(#grh)"/>
<rect x="34.85" y="332" width="6.25" height="105.50" fill="#555"/>
<clipPath id="cp348"><rect x="34.85" y="332" width="6.25" height="105.50"/></clipPath>
<path clip-path="url(#cp348)" d="M34.85 5.90H41.10L34.85 20.90ZM34.85 22.70H41.10L34.85 37.70ZM34.85 39.50H41.10L34.85 54.50ZM34.85 56.30H41.10L34.85 71.30ZM34.85 73.10H41.10L34.85 88.10ZM34.85 89.90H41.10L34.85 104.90ZM34.85 106.70H41.10L34.85 121.70ZM34.85 123.50H41.10L34.85 138.50ZM34.85 140.30H41.10L34.85 155.30ZM34.85 157.10H41.10L34.85 172.10ZM34.85 173.90H41.10L34.85 188.90ZM34.85 190.70H41.10L34.85 205.70ZM34.85 207.50H41.10L34.85 222.50ZM34.85 224.30H41.10L34.85 239.30ZM34.85 241.10H41.10L34.85 256.10ZM34.85 257.90H41.10L34.85 272.90ZM34.85 274.70H41.10L34.85 289.70ZM34.85 291.50H41.10L34.85 306.50ZM34.85 308.30H41.10L34.85 323.30ZM34.85 325.10H41.10L34.85 340.10ZM34.85 341.90H41.10L34.85 356.90ZM34.85 358.70H41.10L34.85 373.70ZM34.85 375.50H41.10L34.85 390.50ZM34.85 392.30H41.10L34.85 407.30ZM34.85 409.10H41.10L34.85 424.10ZM34.85 425.90H41.10L34.85 440.90Z" fill="#d8d8d8"/>
<rect x="34.85" y="332" width="6.25" height="105.50" fill="none" stroke="#333" stroke-width="0.5"/>
<line x1="37.98" y1="329.5" x2="37.98" y2="332" stroke="#555" stroke-width="0.6" />
<line x1="36.58" y1="329.5" x2="39.38" y2="329.5" stroke="#555" stroke-width="0.6" />
<rect x="41.10" y="337" width="6.25" height="100.50" fill="#fff" stroke="#333" stroke-width="0.5"/>
<line x1="44.23" y1="333.75" x2="44.23" y2="337" stroke="#555" stroke-width="0.6" />
<line x1="42.83" y1="333.75" x2="45.62" y2="333.75" stroke="#555" stroke-width="0.6" />
<rect x="47.35" y="333" width="6.25" height="104.50" fill="#d2d2d2" stroke="#333" stroke-width="0.5"/>
<line x1="50.48" y1="326.25" x2="50.48" y2="333" stroke="#555" stroke-width="0.6" />
<line x1="49.08" y1="326.25" x2="51.88" y2="326.25" stroke="#555" stroke-width="0.6" />
<rect x="53.60" y="335.75" width="6.25" height="101.75" fill="#999" stroke="#333" stroke-width="0.5"/>
<line x1="56.73" y1="334.5" x2="56.73" y2="335.75" stroke="#555" stroke-width="0.6" />
<line x1="55.33" y1="334.5" x2="58.12" y2="334.5" stroke="#555" stroke-width="0.6" />
<rect x="59.85" y="367" width="6.25" height="70.50" fill="#222" stroke="#333" stroke-width="0.5"/>
<line x1="62.98" y1="364.25" x2="62.98" y2="367" stroke="#555" stroke-width="0.6" />
<line x1="61.58" y1="364.25" x2="64.38" y2="364.25" stroke="#555" stroke-width="0.6" />
<rect x="74.50" y="322.25" width="6.25" height="115.25" fill="url(#gr)" stroke="#333" stroke-width="0.5"/>
<rect x="74.50" y="322.25" width="6.25" height="115.25" fill="url(#grh)"/>
<rect x="80.75" y="324.25" width="6.25" height="113.25" fill="#8c8c8c"/>
<clipPath id="cp807"><rect x="80.75" y="324.25" width="6.25" height="113.25"/></clipPath>
<path clip-path="url(#cp807)" d="M80.75 5.90H87.00L80.75 20.90ZM80.75 22.70H87.00L80.75 37.70ZM80.75 39.50H87.00L80.75 54.50ZM80.75 56.30H87.00L80.75 71.30ZM80.75 73.10H87.00L80.75 88.10ZM80.75 89.90H87.00L80.75 104.90ZM80.75 106.70H87.00L80.75 121.70ZM80.75 123.50H87.00L80.75 138.50ZM80.75 140.30H87.00L80.75 155.30ZM80.75 157.10H87.00L80.75 172.10ZM80.75 173.90H87.00L80.75 188.90ZM80.75 190.70H87.00L80.75 205.70ZM80.75 207.50H87.00L80.75 222.50ZM80.75 224.30H87.00L80.75 239.30ZM80.75 241.10H87.00L80.75 256.10ZM80.75 257.90H87.00L80.75 272.90ZM80.75 274.70H87.00L80.75 289.70ZM80.75 291.50H87.00L80.75 306.50ZM80.75 308.30H87.00L80.75 323.30ZM80.75 325.10H87.00L80.75 340.10ZM80.75 341.90H87.00L80.75 356.90ZM80.75 358.70H87.00L80.75 373.70ZM80.75 375.50H87.00L80.75 390.50ZM80.75 392.30H87.00L80.75 407.30ZM80.75 409.10H87.00L80.75 424.10ZM80.75 425.90H87.00L80.75 440.90Z" fill="#a0a0a0"/>
<path clip-path="url(#cp807)" d="M87.00 18.20V22.70H83.80ZM87.00 35.00V39.50H83.80ZM87.00 51.80V56.30H83.80ZM87.00 68.60V73.10H83.80ZM87.00 85.40V89.90H83.80ZM87.00 102.20V106.70H83.80ZM87.00 119.00V123.50H83.80ZM87.00 135.80V140.30H83.80ZM87.00 152.60V157.10H83.80ZM87.00 169.40V173.90H83.80ZM87.00 186.20V190.70H83.80ZM87.00 203.00V207.50H83.80ZM87.00 219.80V224.30H83.80ZM87.00 236.60V241.10H83.80ZM87.00 253.40V257.90H83.80ZM87.00 270.20V274.70H83.80ZM87.00 287.00V291.50H83.80ZM87.00 303.80V308.30H83.80ZM87.00 320.60V325.10H83.80ZM87.00 337.40V341.90H83.80ZM87.00 354.20V358.70H83.80ZM87.00 371.00V375.50H83.80ZM87.00 387.80V392.30H83.80ZM87.00 404.60V409.10H83.80ZM87.00 421.40V425.90H83.80ZM87.00 438.20V442.70H83.80Z" fill="#333"/>
<rect x="80.75" y="324.25" width="6.25" height="113.25" fill="none" stroke="#333" stroke-width="0.5"/>
<line x1="83.88" y1="322" x2="83.88" y2="324.25" stroke="#555" stroke-width="0.6" />
<line x1="82.47" y1="322" x2="85.28" y2="322" stroke="#555" stroke-width="0.6" />
<rect x="87.00" y="329.5" width="6.25" height="108.00" fill="#fff" stroke="#333" stroke-width="0.5"/>
<line x1="90.12" y1="324" x2="90.12" y2="329.5" stroke="#555" stroke-width="0.6" />
<line x1="88.72" y1="324" x2="91.53" y2="324" stroke="#555" stroke-width="0.6" />
<rect x="93.25" y="327.5" width="6.25" height="110.00" fill="#d2d2d2" stroke="#333" stroke-width="0.5"/>
<line x1="96.38" y1="319.5" x2="96.38" y2="327.5" stroke="#555" stroke-width="0.6" />
<line x1="94.97" y1="319.5" x2="97.78" y2="319.5" stroke="#555" stroke-width="0.6" />
<rect x="99.50" y="331.25" width="6.25" height="106.25" fill="#999" stroke="#333" stroke-width="0.5"/>
<line x1="102.62" y1="321.75" x2="102.62" y2="331.25" stroke="#555" stroke-width="0.6" />
<line x1="101.22" y1="321.75" x2="104.03" y2="321.75" stroke="#555" stroke-width="0.6" />
<rect x="105.75" y="333.25" width="6.25" height="104.25" fill="#222" stroke="#333" stroke-width="0.5"/>
<line x1="108.88" y1="323" x2="108.88" y2="333.25" stroke="#555" stroke-width="0.6" />
<line x1="107.47" y1="323" x2="110.28" y2="323" stroke="#555" stroke-width="0.6" />
<rect x="121.75" y="322.25" width="6.25" height="115.25" fill="url(#gr)" stroke="#333" stroke-width="0.5"/>
<rect x="121.75" y="322.25" width="6.25" height="115.25" fill="url(#grh)"/>
<rect x="128.00" y="339.25" width="6.25" height="98.25" fill="#555"/>
<clipPath id="cp1280"><rect x="128.00" y="339.25" width="6.25" height="98.25"/></clipPath>
<path clip-path="url(#cp1280)" d="M128.00 5.90H134.25L128.00 20.90ZM128.00 22.70H134.25L128.00 37.70ZM128.00 39.50H134.25L128.00 54.50ZM128.00 56.30H134.25L128.00 71.30ZM128.00 73.10H134.25L128.00 88.10ZM128.00 89.90H134.25L128.00 104.90ZM128.00 106.70H134.25L128.00 121.70ZM128.00 123.50H134.25L128.00 138.50ZM128.00 140.30H134.25L128.00 155.30ZM128.00 157.10H134.25L128.00 172.10ZM128.00 173.90H134.25L128.00 188.90ZM128.00 190.70H134.25L128.00 205.70ZM128.00 207.50H134.25L128.00 222.50ZM128.00 224.30H134.25L128.00 239.30ZM128.00 241.10H134.25L128.00 256.10ZM128.00 257.90H134.25L128.00 272.90ZM128.00 274.70H134.25L128.00 289.70ZM128.00 291.50H134.25L128.00 306.50ZM128.00 308.30H134.25L128.00 323.30ZM128.00 325.10H134.25L128.00 340.10ZM128.00 341.90H134.25L128.00 356.90ZM128.00 358.70H134.25L128.00 373.70ZM128.00 375.50H134.25L128.00 390.50ZM128.00 392.30H134.25L128.00 407.30ZM128.00 409.10H134.25L128.00 424.10ZM128.00 425.90H134.25L128.00 440.90Z" fill="#d8d8d8"/>
<rect x="128.00" y="339.25" width="6.25" height="98.25" fill="none" stroke="#333" stroke-width="0.5"/>
<line x1="131.12" y1="336.25" x2="131.12" y2="339.25" stroke="#555" stroke-width="0.6" />
<line x1="129.72" y1="336.25" x2="132.53" y2="336.25" stroke="#555" stroke-width="0.6" />
<rect x="134.25" y="329.5" width="6.25" height="108.00" fill="#fff" stroke="#333" stroke-width="0.5"/>
<line x1="137.38" y1="321.25" x2="137.38" y2="329.5" stroke="#555" stroke-width="0.6" />
<line x1="135.97" y1="321.25" x2="138.78" y2="321.25" stroke="#555" stroke-width="0.6" />
<rect x="140.50" y="336.25" width="6.25" height="101.25" fill="#d2d2d2" stroke="#333" stroke-width="0.5"/>
<line x1="143.62" y1="328.75" x2="143.62" y2="336.25" stroke="#555" stroke-width="0.6" />
<line x1="142.22" y1="328.75" x2="145.03" y2="328.75" stroke="#555" stroke-width="0.6" />
<rect x="146.75" y="353" width="6.25" height="84.50" fill="#999" stroke="#333" stroke-width="0.5"/>
<line x1="149.88" y1="351" x2="149.88" y2="353" stroke="#555" stroke-width="0.6" />
<line x1="148.47" y1="351" x2="151.28" y2="351" stroke="#555" stroke-width="0.6" />
<rect x="153.00" y="371.75" width="6.25" height="65.75" fill="#222" stroke="#333" stroke-width="0.5"/>
<line x1="156.12" y1="368" x2="156.12" y2="371.75" stroke="#555" stroke-width="0.6" />
<line x1="154.72" y1="368" x2="157.53" y2="368" stroke="#555" stroke-width="0.6" />
<rect x="168.50" y="322.25" width="6.25" height="115.25" fill="url(#gr)" stroke="#333" stroke-width="0.5"/>
<rect x="168.50" y="322.25" width="6.25" height="115.25" fill="url(#grh)"/>
<rect x="174.75" y="341.25" width="6.25" height="96.25" fill="#8a8a8a"/>
<clipPath id="cp1747"><rect x="174.75" y="341.25" width="6.25" height="96.25"/></clipPath>
<path clip-path="url(#cp1747)" d="M174.75 5.90H181.00M174.75 22.70H181.00M174.75 39.50H181.00M174.75 56.30H181.00M174.75 73.10H181.00M174.75 89.90H181.00M174.75 106.70H181.00M174.75 123.50H181.00M174.75 140.30H181.00M174.75 157.10H181.00M174.75 173.90H181.00M174.75 190.70H181.00M174.75 207.50H181.00M174.75 224.30H181.00M174.75 241.10H181.00M174.75 257.90H181.00M174.75 274.70H181.00M174.75 291.50H181.00M174.75 308.30H181.00M174.75 325.10H181.00M174.75 341.90H181.00M174.75 358.70H181.00M174.75 375.50H181.00M174.75 392.30H181.00M174.75 409.10H181.00M174.75 425.90H181.00" stroke="#555" stroke-width="0.9"/>
<path clip-path="url(#cp1747)" d="M175.25 6.50H178.75L175.25 11.40ZM175.25 23.30H178.75L175.25 28.20ZM175.25 40.10H178.75L175.25 45.00ZM175.25 56.90H178.75L175.25 61.80ZM175.25 73.70H178.75L175.25 78.60ZM175.25 90.50H178.75L175.25 95.40ZM175.25 107.30H178.75L175.25 112.20ZM175.25 124.10H178.75L175.25 129.00ZM175.25 140.90H178.75L175.25 145.80ZM175.25 157.70H178.75L175.25 162.60ZM175.25 174.50H178.75L175.25 179.40ZM175.25 191.30H178.75L175.25 196.20ZM175.25 208.10H178.75L175.25 213.00ZM175.25 224.90H178.75L175.25 229.80ZM175.25 241.70H178.75L175.25 246.60ZM175.25 258.50H178.75L175.25 263.40ZM175.25 275.30H178.75L175.25 280.20ZM175.25 292.10H178.75L175.25 297.00ZM175.25 308.90H178.75L175.25 313.80ZM175.25 325.70H178.75L175.25 330.60ZM175.25 342.50H178.75L175.25 347.40ZM175.25 359.30H178.75L175.25 364.20ZM175.25 376.10H178.75L175.25 381.00ZM175.25 392.90H178.75L175.25 397.80ZM175.25 409.70H178.75L175.25 414.60ZM175.25 426.50H178.75L175.25 431.40Z" fill="#e4e4e4"/>
<rect x="174.75" y="341.25" width="6.25" height="96.25" fill="none" stroke="#333" stroke-width="0.5"/>
<line x1="177.88" y1="339" x2="177.88" y2="341.25" stroke="#555" stroke-width="0.6" />
<line x1="176.47" y1="339" x2="179.28" y2="339" stroke="#555" stroke-width="0.6" />
<rect x="181.00" y="324.8" width="6.25" height="112.70" fill="#fff" stroke="#333" stroke-width="0.5"/>
<line x1="184.12" y1="318.2" x2="184.12" y2="324.8" stroke="#555" stroke-width="0.6" />
<line x1="182.72" y1="318.2" x2="185.53" y2="318.2" stroke="#555" stroke-width="0.6" />
<rect x="187.25" y="342.8" width="6.25" height="94.70" fill="#d2d2d2" stroke="#333" stroke-width="0.5"/>
<line x1="190.38" y1="341" x2="190.38" y2="342.8" stroke="#555" stroke-width="0.6" />
<line x1="188.97" y1="341" x2="191.78" y2="341" stroke="#555" stroke-width="0.6" />
<rect x="193.50" y="379" width="6.25" height="58.50" fill="#999" stroke="#333" stroke-width="0.5"/>
<line x1="196.62" y1="376.75" x2="196.62" y2="379" stroke="#555" stroke-width="0.6" />
<line x1="195.22" y1="376.75" x2="198.03" y2="376.75" stroke="#555" stroke-width="0.6" />
<rect x="199.75" y="403.5" width="6.25" height="34.00" fill="#222" stroke="#333" stroke-width="0.5"/>
<line x1="202.88" y1="401" x2="202.88" y2="403.5" stroke="#555" stroke-width="0.6" />
<line x1="201.47" y1="401" x2="204.28" y2="401" stroke="#555" stroke-width="0.6" />
<text x="62.5" y="359.0" font-size="9" text-anchor="middle" font-weight="bold" >**</text>
<text x="151" y="349.5" font-size="9" text-anchor="middle" font-weight="bold" >**</text>
<text x="157.5" y="366.0" font-size="9" text-anchor="middle" font-weight="bold" >**</text>
<text x="190.5" y="340.3" font-size="9" text-anchor="middle" font-weight="bold" >*</text>
<text x="196.5" y="373.5" font-size="9" text-anchor="middle" font-weight="bold" >*</text>
<text x="203.9" y="400.0" font-size="9" text-anchor="middle" font-weight="bold" >**</text>
<text x="46" y="448.8" font-size="7.1" text-anchor="middle" >WT MEF</text>
<text x="94.6" y="448.8" font-size="7.1" text-anchor="middle" >Vector</text>
<text x="138.4" y="448.8" font-size="7.1" text-anchor="middle" >WT PARP-1</text>
<text x="186.5" y="448.8" font-size="7.1" text-anchor="middle" >K498A PARP-1</text>
<line x1="72.5" y1="455" x2="211.9" y2="455" stroke="#111" stroke-width="1" />
<text x="117.2" y="468.8" font-size="8.8" font-weight="bold">PARP-1<tspan font-size="8.6" font-weight="normal" dy="-4.0" dx="4.5" letter-spacing="0.3">-/-</tspan></text>
<text x="9.4" y="485.8" font-size="12.8" font-weight="bold" >D</text>
<text font-size="10.2" transform="translate(57,536) rotate(-42)">Vector</text>
<text font-size="10.2" transform="translate(92,536) rotate(-43)">PARP-1<tspan font-size="8.6" dy="-1.8" dx="2">1-498</tspan></text>
<text font-size="10.2" transform="translate(124,537) rotate(-46)">PARP-1<tspan font-size="8.6" dy="-1.8" dx="2">499-1014</tspan></text>
<defs><filter id="bl" x="-20%" y="-50%" width="140%" height="200%"><feGaussianBlur stdDeviation="1.7"/></filter>
<filter id="bl2" x="-20%" y="-50%" width="140%" height="200%"><feGaussianBlur stdDeviation="0.7"/></filter>
<linearGradient id="bbg" x1="0" y1="0" x2="1" y2="0"><stop offset="0" stop-color="#e2e2e2"/><stop offset="0.6" stop-color="#dedede"/><stop offset="1" stop-color="#cacaca"/></linearGradient>
<linearGradient id="band" x1="0" y1="0" x2="0" y2="1"><stop offset="0" stop-color="#0c0c0c"/><stop offset="0.45" stop-color="#1a1a1a"/><stop offset="0.7" stop-color="#4a4a4a"/><stop offset="1" stop-color="#9a9a9a"/></linearGradient>
<clipPath id="cpb"><rect x="39.4" y="537.9" width="112.7" height="17.8"/></clipPath>
<clipPath id="cpt"><rect x="39.4" y="560.8" width="112.7" height="17.2"/></clipPath></defs>
<rect x="39.4" y="537.9" width="112.7" height="17.8" fill="url(#bbg)"/>
<g clip-path="url(#cpb)"><g filter="url(#bl)"><ellipse cx="65" cy="546" rx="14" ry="5.5" fill="#cacaca"/><path d="M86 535H141V552Q130 555 119 552Q116 550 113 552Q100 556 86 552Z" fill="url(#band)"/></g></g>
<rect x="39.4" y="560.8" width="112.7" height="17.2" fill="#dadada"/>
<g clip-path="url(#cpt)"><g filter="url(#bl2)" fill="#111"><rect x="43.6" y="564.9" width="35.6" height="7.4" rx="5.5" ry="3.7"/><rect x="77.6" y="564.7" width="35" height="7.8" rx="5.5" ry="3.9"/><rect x="111.4" y="565" width="33.6" height="7.2" rx="5.5" ry="3.6"/></g></g>
<text x="-0.4" y="551" font-size="10" >PARP-1</text>
<text x="2.0" y="572.2" font-size="10" >Tubulin</text>
<text x="250.5" y="282.6" font-size="12.8" font-weight="bold" >E</text>
<line x1="264.4" y1="300.3" x2="264.4" y2="516.3" stroke="#111" stroke-width="1.6" />
<line x1="263.6" y1="515.5" x2="508" y2="515.5" stroke="#111" stroke-width="1.5" />
<line x1="261.8" y1="515.5" x2="264.4" y2="515.5" stroke="#111" stroke-width="1.3" />
<text x="255" y="518.4" font-size="8.9" text-anchor="middle" >0</text>
<line x1="261.8" y1="491.65" x2="264.4" y2="491.65" stroke="#111" stroke-width="1.3" />
<text x="255" y="494.55" font-size="8.9" text-anchor="middle" >10</text>
<line x1="261.8" y1="467.8" x2="264.4" y2="467.8" stroke="#111" stroke-width="1.3" />
<text x="255" y="470.7" font-size="8.9" text-anchor="middle" >20</text>
<line x1="261.8" y1="443.95" x2="264.4" y2="443.95" stroke="#111" stroke-width="1.3" />
<text x="255" y="446.85" font-size="8.9" text-anchor="middle" >30</text>
<line x1="261.8" y1="420.1" x2="264.4" y2="420.1" stroke="#111" stroke-width="1.3" />
<text x="255" y="423.0" font-size="8.9" text-anchor="middle" >40</text>
<line x1="261.8" y1="396.25" x2="264.4" y2="396.25" stroke="#111" stroke-width="1.3" />
<text x="255" y="399.15" font-size="8.9" text-anchor="middle" >50</text>
<line x1="261.8" y1="372.4" x2="264.4" y2="372.4" stroke="#111" stroke-width="1.3" />
<text x="255" y="375.3" font-size="8.9" text-anchor="middle" >60</text>
<line x1="261.8" y1="348.55" x2="264.4" y2="348.55" stroke="#111" stroke-width="1.3" />
<text x="255" y="351.45" font-size="8.9" text-anchor="middle" >70</text>
<line x1="261.8" y1="324.7" x2="264.4" y2="324.7" stroke="#111" stroke-width="1.3" />
<text x="255" y="327.6" font-size="8.9" text-anchor="middle" >80</text>
<line x1="261.8" y1="300.85" x2="264.4" y2="300.85" stroke="#111" stroke-width="1.3" />
<text x="255" y="303.75" font-size="8.9" text-anchor="middle" >90</text>
<line x1="264.4" y1="515.5" x2="264.4" y2="518.5" stroke="#111" stroke-width="1.3" />
<line x1="345.5" y1="515.5" x2="345.5" y2="518.5" stroke="#111" stroke-width="1.3" />
<line x1="427" y1="515.5" x2="427" y2="518.5" stroke="#111" stroke-width="1.3" />
<line x1="508" y1="515.5" x2="508" y2="518.5" stroke="#111" stroke-width="1.3" />
<text x="0" y="0" font-size="9.2" text-anchor="middle" transform="translate(243.7,401) rotate(-90)">Cell Death (%)</text>
<text x="309.4" y="527.4" font-size="8.7" text-anchor="middle" >0</text>
<text x="384.1" y="527.4" font-size="8.7" text-anchor="middle" textLength="11.0" lengthAdjust="spacingAndGlyphs" >0.5</text>
<text x="464.6" y="527.4" font-size="8.7" text-anchor="middle" >1</text>
<text x="385.9" y="543.6" font-size="8.9" text-anchor="middle" >GzmA (&#181;M)</text>
<line x1="304.8" y1="466.7" x2="304.8" y2="488.8" stroke="#111" stroke-width="1.1" />
<line x1="303.0" y1="466.7" x2="306.6" y2="466.7" stroke="#111" stroke-width="1.1" />
<line x1="303.0" y1="488.8" x2="306.6" y2="488.8" stroke="#111" stroke-width="1.1" />
<line x1="467.4" y1="308.8" x2="467.4" y2="334.7" stroke="#111" stroke-width="1.1" />
<line x1="465.6" y1="308.8" x2="469.2" y2="308.8" stroke="#111" stroke-width="1.1" />
<line x1="465.6" y1="334.7" x2="469.2" y2="334.7" stroke="#111" stroke-width="1.1" />
<line x1="467.4" y1="358.5" x2="467.4" y2="383.2" stroke="#111" stroke-width="1.1" />
<line x1="465.6" y1="358.5" x2="469.2" y2="358.5" stroke="#111" stroke-width="1.1" />
<line x1="465.6" y1="383.2" x2="469.2" y2="383.2" stroke="#111" stroke-width="1.1" />
<line x1="467.4" y1="454.4" x2="467.4" y2="479" stroke="#111" stroke-width="1.1" />
<line x1="465.6" y1="454.4" x2="469.2" y2="454.4" stroke="#111" stroke-width="1.1" />
<line x1="465.6" y1="479" x2="469.2" y2="479" stroke="#111" stroke-width="1.1" />
<line x1="385.9" y1="470" x2="385.9" y2="489" stroke="#111" stroke-width="1.1" />
<line x1="384.1" y1="470" x2="387.7" y2="470" stroke="#111" stroke-width="1.1" />
<line x1="384.1" y1="489" x2="387.7" y2="489" stroke="#111" stroke-width="1.1" />
<polyline points="304.8,475 385.9,396.5 467.5,371" fill="none" stroke="#111" stroke-width="1.55"/>
<polyline points="304.8,475 385.9,399.5 467.5,371" fill="none" stroke="#111" stroke-width="1.55"/>
<polyline points="304.8,475 385.9,376.1 467.5,322.2" fill="none" stroke="#111" stroke-width="1.55"/>
<polyline points="304.8,475 385.9,476 467.5,469.5" fill="none" stroke="#111" stroke-width="1.55"/>
<polyline points="304.8,475 385.9,474.6 467.5,469" fill="none" stroke="#111" stroke-width="1.55"/>
<polyline points="304.8,475 385.9,480.4 467.5,469" fill="none" stroke="#111" stroke-width="1.55"/>
<path d="M301.63 476.83L307.97 483.17M301.63 483.17L307.97 476.83" fill="none" stroke="#111" stroke-width="1.7"/>
<path d="M382.73 393.33L389.07 399.67M382.73 399.67L389.07 393.33" fill="none" stroke="#111" stroke-width="1.7"/>
<path d="M464.33 367.83L470.67 374.17M464.33 374.17L470.67 367.83" fill="none" stroke="#111" stroke-width="1.7"/>
<circle cx="304.8" cy="477" r="3.17" fill="#111"/>
<circle cx="385.9" cy="399.5" r="3.17" fill="#111"/>
<circle cx="467.5" cy="371" r="3.17" fill="#111"/>
<path d="M304.8 470.22L308.34 477.42L301.26 477.42Z" fill="#111"/>
<path d="M385.9 372.32L389.44 379.52L382.36 379.52Z" fill="#111"/>
<path d="M467.5 318.42L471.04 325.62L463.96 325.62Z" fill="#111"/>
<path d="M301.63 477.33L307.97 483.67M301.63 483.67L307.97 477.33" fill="none" stroke="#111" stroke-width="1.7"/>
<path d="M382.73 472.83L389.07 479.17M382.73 479.17L389.07 472.83" fill="none" stroke="#111" stroke-width="1.7"/>
<path d="M464.33 466.33L470.67 472.67M464.33 472.67L470.67 466.33" fill="none" stroke="#111" stroke-width="1.7"/>
<circle cx="304.8" cy="477" r="2.93" fill="#fff" stroke="#111" stroke-width="1.2"/>
<circle cx="385.9" cy="474.6" r="2.93" fill="#fff" stroke="#111" stroke-width="1.2"/>
<circle cx="467.5" cy="469" r="2.93" fill="#fff" stroke="#111" stroke-width="1.2"/>
<path d="M304.8 469.21L307.85 475.43L301.75 475.43Z" fill="#fff" stroke="#111" stroke-width="1.2"/>
<path d="M385.9 477.11L388.95 483.33L382.85 483.33Z" fill="#fff" stroke="#111" stroke-width="1.2"/>
<path d="M467.5 465.71L470.55 471.93L464.45 471.93Z" fill="#fff" stroke="#111" stroke-width="1.2"/>
<line x1="271" y1="289.7" x2="307.1" y2="289.7" stroke="#111" stroke-width="1.45" />
<path d="M286.20 287.10L291.40 292.30M286.20 292.30L291.40 287.10" fill="none" stroke="#111" stroke-width="1.7"/>
<text x="308.6" y="292.7" font-size="7.8" >Vector</text>
<line x1="271" y1="302.6" x2="307.1" y2="302.6" stroke="#111" stroke-width="1.45" />
<circle cx="288.8" cy="302.6" r="2.60" fill="#111"/>
<text x="308.6" y="305.6" font-size="7.8" >PARP-1<tspan font-size="5.9" dy="-0.9" dx="1.3">499-1014</tspan></text>
<line x1="271" y1="314.6" x2="307.1" y2="314.6" stroke="#111" stroke-width="1.45" />
<path d="M288.8 311.50L291.70 317.40L285.90 317.40Z" fill="#111"/>
<text x="308.6" y="317.6" font-size="7.8" >PARP-1<tspan font-size="5.9" dy="-0.9" dx="1.3">1-498</tspan></text>
<line x1="271" y1="328.8" x2="307.1" y2="328.8" stroke="#111" stroke-width="1.45" stroke-dasharray="1.8,0.6"/>
<path d="M286.20 326.20L291.40 331.40M286.20 331.40L291.40 326.20" fill="none" stroke="#111" stroke-width="1.7"/>
<text x="308.6" y="331.8" font-size="7.8" >Vector (No PFN)</text>
<line x1="271" y1="340.9" x2="307.1" y2="340.9" stroke="#111" stroke-width="1.45" />
<circle cx="288.8" cy="340.9" r="2.40" fill="#fff" stroke="#111" stroke-width="1.2"/>
<text x="308.6" y="343.9" font-size="7.8" >PARP-1<tspan font-size="5.9" dy="-0.9" dx="1.3">499-1014</tspan><tspan dy="0.9"> (No PFN)</tspan></text>
<line x1="271" y1="354.1" x2="307.1" y2="354.1" stroke="#111" stroke-width="1.45" stroke-dasharray="1.8,0.6"/>
<path d="M288.8 351.40L291.30 356.50L286.30 356.50Z" fill="#fff" stroke="#111" stroke-width="1.2"/>
<text x="308.6" y="357.1" font-size="7.8" >PARP-1<tspan font-size="5.9" dy="-0.9" dx="1.3">1-498</tspan><tspan dy="0.9"> (No PFN)</tspan></text>
<line x1="398" y1="370.4" x2="398" y2="394" stroke="#111" stroke-width="1.0" />
<text x="400.3" y="376.3" font-size="8.7"><tspan font-style="italic">P</tspan> &lt; .02</text>
<path d="M480.8 322.2H484.7V370H480.8" fill="none" stroke="#111" stroke-width="1.1"/>
<text x="487" y="344.5" font-size="8.7"><tspan font-style="italic">P</tspan> &lt; .006</text>
</svg></body></html>
